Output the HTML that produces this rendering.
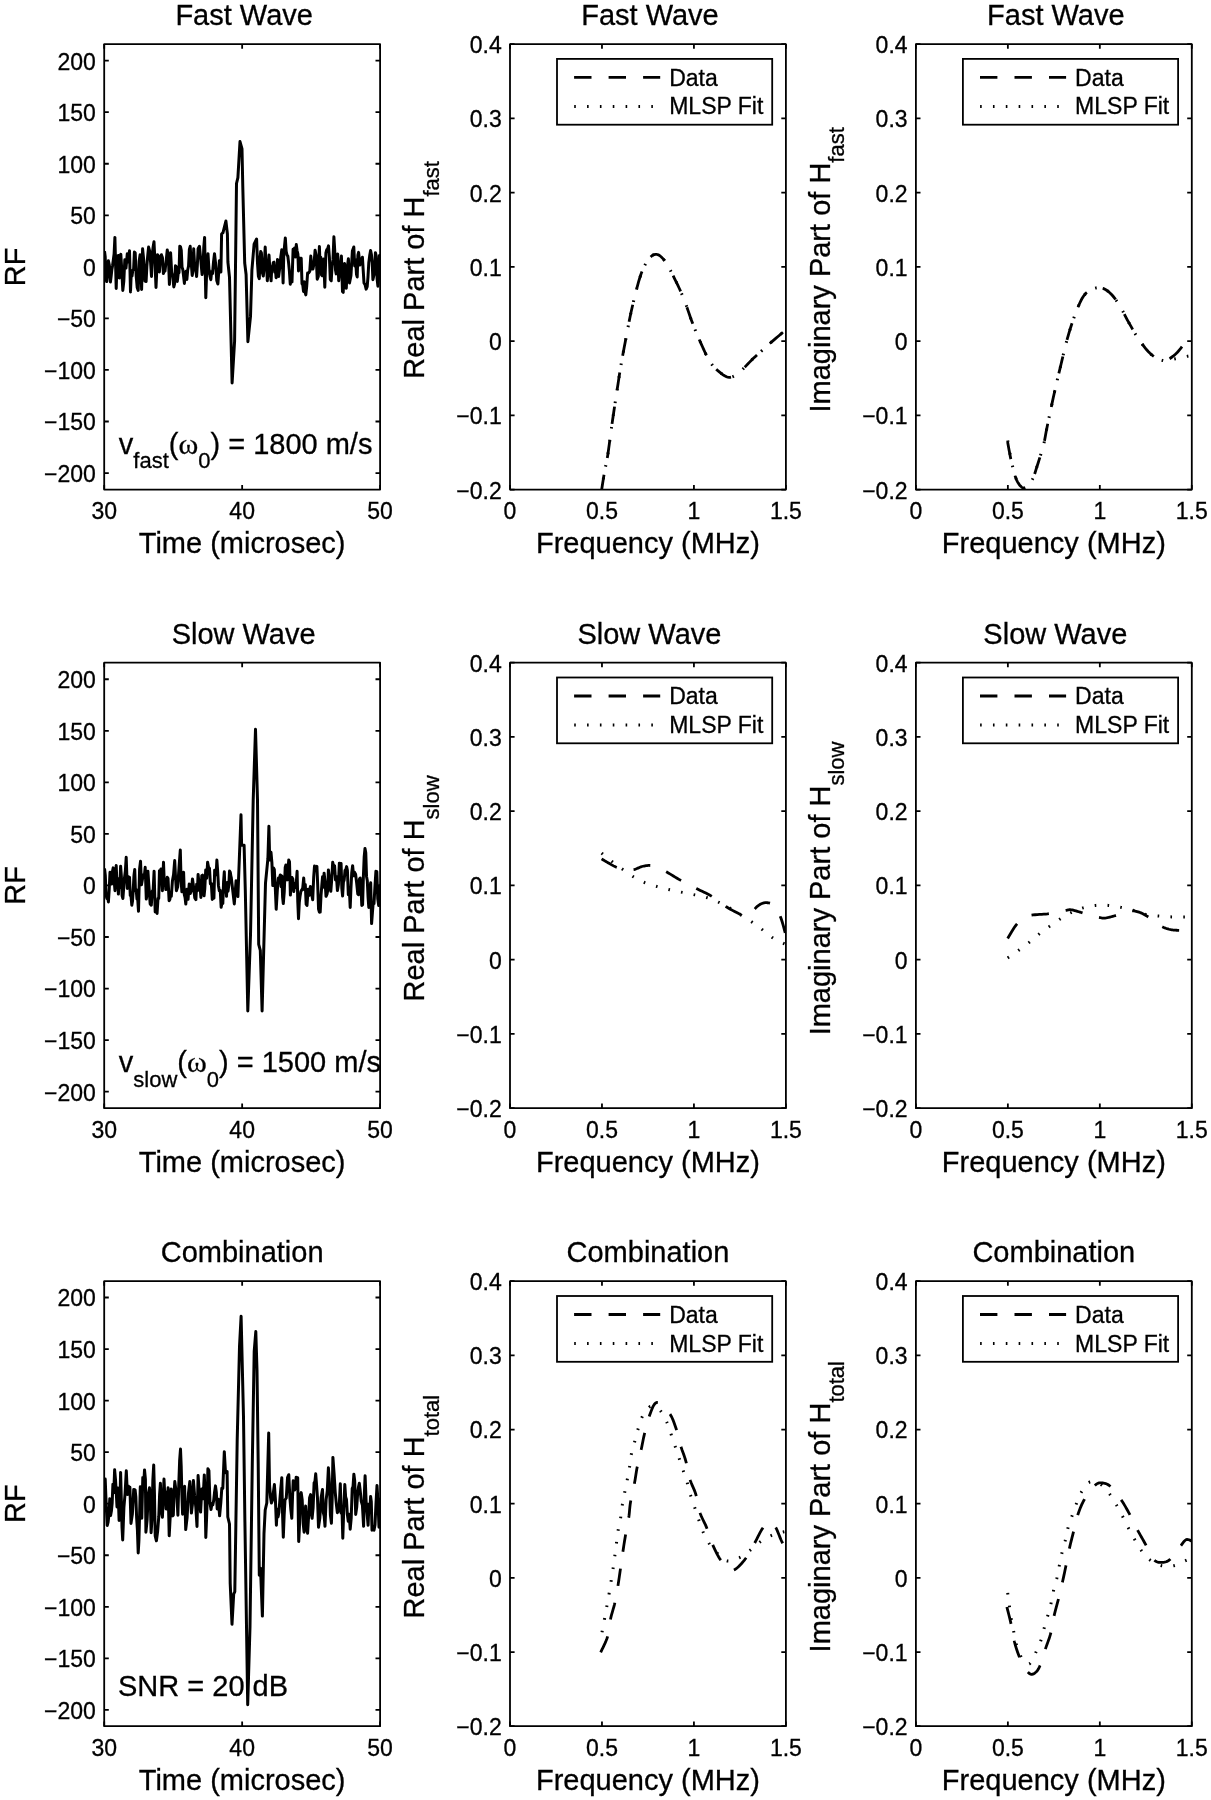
<!DOCTYPE html>
<html><head><meta charset="utf-8"><style>
html,body{margin:0;padding:0;background:#fff;width:1211px;height:1800px;overflow:hidden}
svg{display:block;will-change:transform}
text{font-family:"Liberation Sans", sans-serif;fill:#000;stroke:#000;stroke-width:0.3px}
.t{font-size:23px}
.L{font-size:29px}
.s{font-size:22px}
.w{font-family:"Liberation Serif",serif}
</style></head><body>
<svg width="1211" height="1800" viewBox="0 0 1211 1800">
<rect width="1211" height="1800" fill="#fff"/>
<path d="M104.20,489.60v-4.6M104.20,44.10v4.6M242.15,489.60v-4.6M242.15,44.10v4.6M380.10,489.60v-4.6M380.10,44.10v4.6M104.20,473.05h4.6M380.10,473.05h-4.6M104.20,421.50h4.6M380.10,421.50h-4.6M104.20,369.95h4.6M380.10,369.95h-4.6M104.20,318.40h4.6M380.10,318.40h-4.6M104.20,266.85h4.6M380.10,266.85h-4.6M104.20,215.30h4.6M380.10,215.30h-4.6M104.20,163.75h4.6M380.10,163.75h-4.6M104.20,112.20h4.6M380.10,112.20h-4.6M104.20,60.65h4.6M380.10,60.65h-4.6" stroke="#000" stroke-width="1.8" fill="none"/>
<rect x="104.20" y="44.10" width="275.90" height="445.50" stroke="#000" stroke-width="1.8" fill="none" stroke-linejoin="round"/>
<text x="104.20" y="519.30" text-anchor="middle" class="t">30</text>
<text x="242.15" y="519.30" text-anchor="middle" class="t">40</text>
<text x="380.10" y="519.30" text-anchor="middle" class="t">50</text>
<text x="95.90" y="481.95" text-anchor="end" class="t">−200</text>
<text x="95.90" y="430.40" text-anchor="end" class="t">−150</text>
<text x="95.90" y="378.85" text-anchor="end" class="t">−100</text>
<text x="95.90" y="327.30" text-anchor="end" class="t">−50</text>
<text x="95.90" y="275.75" text-anchor="end" class="t">0</text>
<text x="95.90" y="224.20" text-anchor="end" class="t">50</text>
<text x="95.90" y="172.65" text-anchor="end" class="t">100</text>
<text x="95.90" y="121.10" text-anchor="end" class="t">150</text>
<text x="95.90" y="69.55" text-anchor="end" class="t">200</text>
<path d="M510.00,489.60v-4.6M510.00,44.10v4.6M601.97,489.60v-4.6M601.97,44.10v4.6M693.93,489.60v-4.6M693.93,44.10v4.6M785.90,489.60v-4.6M785.90,44.10v4.6M510.00,489.60h4.6M785.90,489.60h-4.6M510.00,415.35h4.6M785.90,415.35h-4.6M510.00,341.10h4.6M785.90,341.10h-4.6M510.00,266.85h4.6M785.90,266.85h-4.6M510.00,192.60h4.6M785.90,192.60h-4.6M510.00,118.35h4.6M785.90,118.35h-4.6M510.00,44.10h4.6M785.90,44.10h-4.6" stroke="#000" stroke-width="1.8" fill="none"/>
<rect x="510.00" y="44.10" width="275.90" height="445.50" stroke="#000" stroke-width="1.8" fill="none" stroke-linejoin="round"/>
<text x="510.00" y="519.30" text-anchor="middle" class="t">0</text>
<text x="601.97" y="519.30" text-anchor="middle" class="t">0.5</text>
<text x="693.93" y="519.30" text-anchor="middle" class="t">1</text>
<text x="785.90" y="519.30" text-anchor="middle" class="t">1.5</text>
<text x="501.70" y="498.50" text-anchor="end" class="t">−0.2</text>
<text x="501.70" y="424.25" text-anchor="end" class="t">−0.1</text>
<text x="501.70" y="350.00" text-anchor="end" class="t">0</text>
<text x="501.70" y="275.75" text-anchor="end" class="t">0.1</text>
<text x="501.70" y="201.50" text-anchor="end" class="t">0.2</text>
<text x="501.70" y="127.25" text-anchor="end" class="t">0.3</text>
<text x="501.70" y="53.00" text-anchor="end" class="t">0.4</text>
<path d="M915.90,489.60v-4.6M915.90,44.10v4.6M1007.87,489.60v-4.6M1007.87,44.10v4.6M1099.83,489.60v-4.6M1099.83,44.10v4.6M1191.80,489.60v-4.6M1191.80,44.10v4.6M915.90,489.60h4.6M1191.80,489.60h-4.6M915.90,415.35h4.6M1191.80,415.35h-4.6M915.90,341.10h4.6M1191.80,341.10h-4.6M915.90,266.85h4.6M1191.80,266.85h-4.6M915.90,192.60h4.6M1191.80,192.60h-4.6M915.90,118.35h4.6M1191.80,118.35h-4.6M915.90,44.10h4.6M1191.80,44.10h-4.6" stroke="#000" stroke-width="1.8" fill="none"/>
<rect x="915.90" y="44.10" width="275.90" height="445.50" stroke="#000" stroke-width="1.8" fill="none" stroke-linejoin="round"/>
<text x="915.90" y="519.30" text-anchor="middle" class="t">0</text>
<text x="1007.87" y="519.30" text-anchor="middle" class="t">0.5</text>
<text x="1099.83" y="519.30" text-anchor="middle" class="t">1</text>
<text x="1191.80" y="519.30" text-anchor="middle" class="t">1.5</text>
<text x="907.60" y="498.50" text-anchor="end" class="t">−0.2</text>
<text x="907.60" y="424.25" text-anchor="end" class="t">−0.1</text>
<text x="907.60" y="350.00" text-anchor="end" class="t">0</text>
<text x="907.60" y="275.75" text-anchor="end" class="t">0.1</text>
<text x="907.60" y="201.50" text-anchor="end" class="t">0.2</text>
<text x="907.60" y="127.25" text-anchor="end" class="t">0.3</text>
<text x="907.60" y="53.00" text-anchor="end" class="t">0.4</text>
<path d="M104.20,1108.20v-4.6M104.20,662.70v4.6M242.15,1108.20v-4.6M242.15,662.70v4.6M380.10,1108.20v-4.6M380.10,662.70v4.6M104.20,1091.65h4.6M380.10,1091.65h-4.6M104.20,1040.10h4.6M380.10,1040.10h-4.6M104.20,988.55h4.6M380.10,988.55h-4.6M104.20,937.00h4.6M380.10,937.00h-4.6M104.20,885.45h4.6M380.10,885.45h-4.6M104.20,833.90h4.6M380.10,833.90h-4.6M104.20,782.35h4.6M380.10,782.35h-4.6M104.20,730.80h4.6M380.10,730.80h-4.6M104.20,679.25h4.6M380.10,679.25h-4.6" stroke="#000" stroke-width="1.8" fill="none"/>
<rect x="104.20" y="662.70" width="275.90" height="445.50" stroke="#000" stroke-width="1.8" fill="none" stroke-linejoin="round"/>
<text x="104.20" y="1137.90" text-anchor="middle" class="t">30</text>
<text x="242.15" y="1137.90" text-anchor="middle" class="t">40</text>
<text x="380.10" y="1137.90" text-anchor="middle" class="t">50</text>
<text x="95.90" y="1100.55" text-anchor="end" class="t">−200</text>
<text x="95.90" y="1049.00" text-anchor="end" class="t">−150</text>
<text x="95.90" y="997.45" text-anchor="end" class="t">−100</text>
<text x="95.90" y="945.90" text-anchor="end" class="t">−50</text>
<text x="95.90" y="894.35" text-anchor="end" class="t">0</text>
<text x="95.90" y="842.80" text-anchor="end" class="t">50</text>
<text x="95.90" y="791.25" text-anchor="end" class="t">100</text>
<text x="95.90" y="739.70" text-anchor="end" class="t">150</text>
<text x="95.90" y="688.15" text-anchor="end" class="t">200</text>
<path d="M510.00,1108.20v-4.6M510.00,662.70v4.6M601.97,1108.20v-4.6M601.97,662.70v4.6M693.93,1108.20v-4.6M693.93,662.70v4.6M785.90,1108.20v-4.6M785.90,662.70v4.6M510.00,1108.20h4.6M785.90,1108.20h-4.6M510.00,1033.95h4.6M785.90,1033.95h-4.6M510.00,959.70h4.6M785.90,959.70h-4.6M510.00,885.45h4.6M785.90,885.45h-4.6M510.00,811.20h4.6M785.90,811.20h-4.6M510.00,736.95h4.6M785.90,736.95h-4.6M510.00,662.70h4.6M785.90,662.70h-4.6" stroke="#000" stroke-width="1.8" fill="none"/>
<rect x="510.00" y="662.70" width="275.90" height="445.50" stroke="#000" stroke-width="1.8" fill="none" stroke-linejoin="round"/>
<text x="510.00" y="1137.90" text-anchor="middle" class="t">0</text>
<text x="601.97" y="1137.90" text-anchor="middle" class="t">0.5</text>
<text x="693.93" y="1137.90" text-anchor="middle" class="t">1</text>
<text x="785.90" y="1137.90" text-anchor="middle" class="t">1.5</text>
<text x="501.70" y="1117.10" text-anchor="end" class="t">−0.2</text>
<text x="501.70" y="1042.85" text-anchor="end" class="t">−0.1</text>
<text x="501.70" y="968.60" text-anchor="end" class="t">0</text>
<text x="501.70" y="894.35" text-anchor="end" class="t">0.1</text>
<text x="501.70" y="820.10" text-anchor="end" class="t">0.2</text>
<text x="501.70" y="745.85" text-anchor="end" class="t">0.3</text>
<text x="501.70" y="671.60" text-anchor="end" class="t">0.4</text>
<path d="M915.90,1108.20v-4.6M915.90,662.70v4.6M1007.87,1108.20v-4.6M1007.87,662.70v4.6M1099.83,1108.20v-4.6M1099.83,662.70v4.6M1191.80,1108.20v-4.6M1191.80,662.70v4.6M915.90,1108.20h4.6M1191.80,1108.20h-4.6M915.90,1033.95h4.6M1191.80,1033.95h-4.6M915.90,959.70h4.6M1191.80,959.70h-4.6M915.90,885.45h4.6M1191.80,885.45h-4.6M915.90,811.20h4.6M1191.80,811.20h-4.6M915.90,736.95h4.6M1191.80,736.95h-4.6M915.90,662.70h4.6M1191.80,662.70h-4.6" stroke="#000" stroke-width="1.8" fill="none"/>
<rect x="915.90" y="662.70" width="275.90" height="445.50" stroke="#000" stroke-width="1.8" fill="none" stroke-linejoin="round"/>
<text x="915.90" y="1137.90" text-anchor="middle" class="t">0</text>
<text x="1007.87" y="1137.90" text-anchor="middle" class="t">0.5</text>
<text x="1099.83" y="1137.90" text-anchor="middle" class="t">1</text>
<text x="1191.80" y="1137.90" text-anchor="middle" class="t">1.5</text>
<text x="907.60" y="1117.10" text-anchor="end" class="t">−0.2</text>
<text x="907.60" y="1042.85" text-anchor="end" class="t">−0.1</text>
<text x="907.60" y="968.60" text-anchor="end" class="t">0</text>
<text x="907.60" y="894.35" text-anchor="end" class="t">0.1</text>
<text x="907.60" y="820.10" text-anchor="end" class="t">0.2</text>
<text x="907.60" y="745.85" text-anchor="end" class="t">0.3</text>
<text x="907.60" y="671.60" text-anchor="end" class="t">0.4</text>
<path d="M104.20,1726.20v-4.6M104.20,1281.20v4.6M242.15,1726.20v-4.6M242.15,1281.20v4.6M380.10,1726.20v-4.6M380.10,1281.20v4.6M104.20,1709.90h4.6M380.10,1709.90h-4.6M104.20,1658.35h4.6M380.10,1658.35h-4.6M104.20,1606.80h4.6M380.10,1606.80h-4.6M104.20,1555.25h4.6M380.10,1555.25h-4.6M104.20,1503.70h4.6M380.10,1503.70h-4.6M104.20,1452.15h4.6M380.10,1452.15h-4.6M104.20,1400.60h4.6M380.10,1400.60h-4.6M104.20,1349.05h4.6M380.10,1349.05h-4.6M104.20,1297.50h4.6M380.10,1297.50h-4.6" stroke="#000" stroke-width="1.8" fill="none"/>
<rect x="104.20" y="1281.20" width="275.90" height="445.00" stroke="#000" stroke-width="1.8" fill="none" stroke-linejoin="round"/>
<text x="104.20" y="1755.90" text-anchor="middle" class="t">30</text>
<text x="242.15" y="1755.90" text-anchor="middle" class="t">40</text>
<text x="380.10" y="1755.90" text-anchor="middle" class="t">50</text>
<text x="95.90" y="1718.80" text-anchor="end" class="t">−200</text>
<text x="95.90" y="1667.25" text-anchor="end" class="t">−150</text>
<text x="95.90" y="1615.70" text-anchor="end" class="t">−100</text>
<text x="95.90" y="1564.15" text-anchor="end" class="t">−50</text>
<text x="95.90" y="1512.60" text-anchor="end" class="t">0</text>
<text x="95.90" y="1461.05" text-anchor="end" class="t">50</text>
<text x="95.90" y="1409.50" text-anchor="end" class="t">100</text>
<text x="95.90" y="1357.95" text-anchor="end" class="t">150</text>
<text x="95.90" y="1306.40" text-anchor="end" class="t">200</text>
<path d="M510.00,1726.20v-4.6M510.00,1281.20v4.6M601.97,1726.20v-4.6M601.97,1281.20v4.6M693.93,1726.20v-4.6M693.93,1281.20v4.6M785.90,1726.20v-4.6M785.90,1281.20v4.6M510.00,1726.20h4.6M785.90,1726.20h-4.6M510.00,1652.03h4.6M785.90,1652.03h-4.6M510.00,1577.87h4.6M785.90,1577.87h-4.6M510.00,1503.70h4.6M785.90,1503.70h-4.6M510.00,1429.53h4.6M785.90,1429.53h-4.6M510.00,1355.37h4.6M785.90,1355.37h-4.6M510.00,1281.20h4.6M785.90,1281.20h-4.6" stroke="#000" stroke-width="1.8" fill="none"/>
<rect x="510.00" y="1281.20" width="275.90" height="445.00" stroke="#000" stroke-width="1.8" fill="none" stroke-linejoin="round"/>
<text x="510.00" y="1755.90" text-anchor="middle" class="t">0</text>
<text x="601.97" y="1755.90" text-anchor="middle" class="t">0.5</text>
<text x="693.93" y="1755.90" text-anchor="middle" class="t">1</text>
<text x="785.90" y="1755.90" text-anchor="middle" class="t">1.5</text>
<text x="501.70" y="1735.10" text-anchor="end" class="t">−0.2</text>
<text x="501.70" y="1660.93" text-anchor="end" class="t">−0.1</text>
<text x="501.70" y="1586.77" text-anchor="end" class="t">0</text>
<text x="501.70" y="1512.60" text-anchor="end" class="t">0.1</text>
<text x="501.70" y="1438.43" text-anchor="end" class="t">0.2</text>
<text x="501.70" y="1364.27" text-anchor="end" class="t">0.3</text>
<text x="501.70" y="1290.10" text-anchor="end" class="t">0.4</text>
<path d="M915.90,1726.20v-4.6M915.90,1281.20v4.6M1007.87,1726.20v-4.6M1007.87,1281.20v4.6M1099.83,1726.20v-4.6M1099.83,1281.20v4.6M1191.80,1726.20v-4.6M1191.80,1281.20v4.6M915.90,1726.20h4.6M1191.80,1726.20h-4.6M915.90,1652.03h4.6M1191.80,1652.03h-4.6M915.90,1577.87h4.6M1191.80,1577.87h-4.6M915.90,1503.70h4.6M1191.80,1503.70h-4.6M915.90,1429.53h4.6M1191.80,1429.53h-4.6M915.90,1355.37h4.6M1191.80,1355.37h-4.6M915.90,1281.20h4.6M1191.80,1281.20h-4.6" stroke="#000" stroke-width="1.8" fill="none"/>
<rect x="915.90" y="1281.20" width="275.90" height="445.00" stroke="#000" stroke-width="1.8" fill="none" stroke-linejoin="round"/>
<text x="915.90" y="1755.90" text-anchor="middle" class="t">0</text>
<text x="1007.87" y="1755.90" text-anchor="middle" class="t">0.5</text>
<text x="1099.83" y="1755.90" text-anchor="middle" class="t">1</text>
<text x="1191.80" y="1755.90" text-anchor="middle" class="t">1.5</text>
<text x="907.60" y="1735.10" text-anchor="end" class="t">−0.2</text>
<text x="907.60" y="1660.93" text-anchor="end" class="t">−0.1</text>
<text x="907.60" y="1586.77" text-anchor="end" class="t">0</text>
<text x="907.60" y="1512.60" text-anchor="end" class="t">0.1</text>
<text x="907.60" y="1438.43" text-anchor="end" class="t">0.2</text>
<text x="907.60" y="1364.27" text-anchor="end" class="t">0.3</text>
<text x="907.60" y="1290.10" text-anchor="end" class="t">0.4</text>
<text x="244.15" y="25.00" text-anchor="middle" class="L">Fast Wave</text>
<text x="242.15" y="553.10" text-anchor="middle" class="L">Time (microsec)</text>
<text x="649.95" y="25.00" text-anchor="middle" class="L">Fast Wave</text>
<text x="647.95" y="553.10" text-anchor="middle" class="L">Frequency (MHz)</text>
<text x="1055.85" y="25.00" text-anchor="middle" class="L">Fast Wave</text>
<text x="1053.85" y="553.10" text-anchor="middle" class="L">Frequency (MHz)</text>
<text transform="translate(24.8,266.85) rotate(-90)" text-anchor="middle" class="L">RF</text>
<text transform="translate(424.00,269.85) rotate(-90)" text-anchor="middle" class="L">Real Part of H<tspan class="s" dy="14.5">fast</tspan></text>
<text transform="translate(829.90,269.85) rotate(-90)" text-anchor="middle" class="L">Imaginary Part of H<tspan class="s" dy="14.5">fast</tspan></text>
<text x="243.65" y="643.60" text-anchor="middle" class="L">Slow Wave</text>
<text x="242.15" y="1171.70" text-anchor="middle" class="L">Time (microsec)</text>
<text x="649.45" y="643.60" text-anchor="middle" class="L">Slow Wave</text>
<text x="647.95" y="1171.70" text-anchor="middle" class="L">Frequency (MHz)</text>
<text x="1055.35" y="643.60" text-anchor="middle" class="L">Slow Wave</text>
<text x="1053.85" y="1171.70" text-anchor="middle" class="L">Frequency (MHz)</text>
<text transform="translate(24.8,885.45) rotate(-90)" text-anchor="middle" class="L">RF</text>
<text transform="translate(424.00,888.45) rotate(-90)" text-anchor="middle" class="L">Real Part of H<tspan class="s" dy="14.5">slow</tspan></text>
<text transform="translate(829.90,888.45) rotate(-90)" text-anchor="middle" class="L">Imaginary Part of H<tspan class="s" dy="14.5">slow</tspan></text>
<text x="242.15" y="1262.10" text-anchor="middle" class="L">Combination</text>
<text x="242.15" y="1789.70" text-anchor="middle" class="L">Time (microsec)</text>
<text x="647.95" y="1262.10" text-anchor="middle" class="L">Combination</text>
<text x="647.95" y="1789.70" text-anchor="middle" class="L">Frequency (MHz)</text>
<text x="1053.85" y="1262.10" text-anchor="middle" class="L">Combination</text>
<text x="1053.85" y="1789.70" text-anchor="middle" class="L">Frequency (MHz)</text>
<text transform="translate(24.8,1503.70) rotate(-90)" text-anchor="middle" class="L">RF</text>
<text transform="translate(424.00,1506.70) rotate(-90)" text-anchor="middle" class="L">Real Part of H<tspan class="s" dy="14.5">total</tspan></text>
<text transform="translate(829.90,1506.70) rotate(-90)" text-anchor="middle" class="L">Imaginary Part of H<tspan class="s" dy="14.5">total</tspan></text>
<rect x="557.00" y="58.90" width="215.20" height="65.80" fill="#fff" stroke="#000" stroke-width="1.8"/>
<path d="M574.10,77.40H660.20" stroke="#000" stroke-width="2.8" stroke-dasharray="17.4,17.1" fill="none"/>
<path d="M574.20,106.50H655.00" stroke="#000" stroke-width="3" stroke-dasharray="1.6,11.25" fill="none"/>
<text x="669.20" y="85.50" class="t">Data</text>
<text x="669.20" y="114.40" class="t">MLSP Fit</text>
<rect x="962.90" y="58.90" width="215.20" height="65.80" fill="#fff" stroke="#000" stroke-width="1.8"/>
<path d="M980.00,77.40H1066.10" stroke="#000" stroke-width="2.8" stroke-dasharray="17.4,17.1" fill="none"/>
<path d="M980.10,106.50H1060.90" stroke="#000" stroke-width="3" stroke-dasharray="1.6,11.25" fill="none"/>
<text x="1075.10" y="85.50" class="t">Data</text>
<text x="1075.10" y="114.40" class="t">MLSP Fit</text>
<rect x="557.00" y="677.50" width="215.20" height="65.80" fill="#fff" stroke="#000" stroke-width="1.8"/>
<path d="M574.10,696.00H660.20" stroke="#000" stroke-width="2.8" stroke-dasharray="17.4,17.1" fill="none"/>
<path d="M574.20,725.10H655.00" stroke="#000" stroke-width="3" stroke-dasharray="1.6,11.25" fill="none"/>
<text x="669.20" y="704.10" class="t">Data</text>
<text x="669.20" y="733.00" class="t">MLSP Fit</text>
<rect x="962.90" y="677.50" width="215.20" height="65.80" fill="#fff" stroke="#000" stroke-width="1.8"/>
<path d="M980.00,696.00H1066.10" stroke="#000" stroke-width="2.8" stroke-dasharray="17.4,17.1" fill="none"/>
<path d="M980.10,725.10H1060.90" stroke="#000" stroke-width="3" stroke-dasharray="1.6,11.25" fill="none"/>
<text x="1075.10" y="704.10" class="t">Data</text>
<text x="1075.10" y="733.00" class="t">MLSP Fit</text>
<rect x="557.00" y="1296.00" width="215.20" height="65.80" fill="#fff" stroke="#000" stroke-width="1.8"/>
<path d="M574.10,1314.50H660.20" stroke="#000" stroke-width="2.8" stroke-dasharray="17.4,17.1" fill="none"/>
<path d="M574.20,1343.60H655.00" stroke="#000" stroke-width="3" stroke-dasharray="1.6,11.25" fill="none"/>
<text x="669.20" y="1322.60" class="t">Data</text>
<text x="669.20" y="1351.50" class="t">MLSP Fit</text>
<rect x="962.90" y="1296.00" width="215.20" height="65.80" fill="#fff" stroke="#000" stroke-width="1.8"/>
<path d="M980.00,1314.50H1066.10" stroke="#000" stroke-width="2.8" stroke-dasharray="17.4,17.1" fill="none"/>
<path d="M980.10,1343.60H1060.90" stroke="#000" stroke-width="3" stroke-dasharray="1.6,11.25" fill="none"/>
<text x="1075.10" y="1322.60" class="t">Data</text>
<text x="1075.10" y="1351.50" class="t">MLSP Fit</text>
<defs>
<clipPath id="c00"><rect x="104.20" y="44.10" width="275.90" height="445.50"/></clipPath>
<clipPath id="c01"><rect x="510.00" y="44.10" width="275.90" height="445.50"/></clipPath>
<clipPath id="c02"><rect x="915.90" y="44.10" width="275.90" height="445.50"/></clipPath>
<clipPath id="c10"><rect x="104.20" y="662.70" width="275.90" height="445.50"/></clipPath>
<clipPath id="c11"><rect x="510.00" y="662.70" width="275.90" height="445.50"/></clipPath>
<clipPath id="c12"><rect x="915.90" y="662.70" width="275.90" height="445.50"/></clipPath>
<clipPath id="c20"><rect x="104.20" y="1281.20" width="275.90" height="445.00"/></clipPath>
<clipPath id="c21"><rect x="510.00" y="1281.20" width="275.90" height="445.00"/></clipPath>
<clipPath id="c22"><rect x="915.90" y="1281.20" width="275.90" height="445.00"/></clipPath>
</defs>
<path d="M601.30,492.00L601.55,490.43L601.88,488.33L602.27,485.82L602.70,483.04L603.16,480.13L603.62,477.23L604.08,474.47L604.50,472.00L604.89,469.86L605.27,467.96L605.65,466.18L606.03,464.41L606.42,462.56L606.82,460.51L607.25,458.16L607.70,455.40L608.18,452.17L608.70,448.54L609.23,444.62L609.78,440.49L610.33,436.27L610.89,432.05L611.45,427.93L612.00,424.00L612.55,420.22L613.10,416.47L613.66,412.74L614.21,409.06L614.77,405.40L615.32,401.79L615.86,398.22L616.40,394.70L616.92,391.23L617.43,387.81L617.94,384.44L618.44,381.10L618.94,377.80L619.45,374.52L619.97,371.25L620.50,368.00L621.04,364.83L621.56,361.80L622.09,358.82L622.62,355.85L623.18,352.81L623.78,349.65L624.41,346.30L625.10,342.70L625.84,338.80L626.62,334.65L627.44,330.30L628.29,325.83L629.18,321.30L630.09,316.78L631.04,312.32L632.00,308.00L633.01,303.67L634.07,299.22L635.17,294.73L636.29,290.30L637.42,286.02L638.55,281.98L639.64,278.28L640.70,275.00L641.72,272.15L642.71,269.65L643.69,267.45L644.66,265.51L645.61,263.79L646.57,262.24L647.53,260.83L648.50,259.50L649.47,258.27L650.43,257.19L651.39,256.26L652.34,255.50L653.31,254.91L654.29,254.51L655.28,254.30L656.30,254.30L657.33,254.50L658.37,254.89L659.42,255.47L660.49,256.23L661.57,257.19L662.68,258.33L663.82,259.67L665.00,261.20L666.23,263.00L667.52,265.12L668.85,267.47L670.21,269.99L671.56,272.60L672.89,275.24L674.17,277.83L675.40,280.30L676.56,282.65L677.67,284.96L678.75,287.24L679.81,289.53L680.85,291.86L681.89,294.27L682.93,296.77L684.00,299.40L685.08,302.20L686.17,305.17L687.26,308.25L688.34,311.39L689.43,314.55L690.52,317.67L691.61,320.70L692.70,323.60L693.79,326.39L694.88,329.12L695.97,331.80L697.06,334.43L698.14,337.00L699.23,339.52L700.32,341.99L701.40,344.40L702.48,346.79L703.55,349.17L704.63,351.52L705.70,353.81L706.77,356.00L707.85,358.09L708.92,360.03L710.00,361.80L711.07,363.39L712.13,364.81L713.18,366.09L714.24,367.26L715.31,368.33L716.40,369.35L717.53,370.33L718.70,371.30L719.92,372.30L721.18,373.33L722.48,374.33L723.79,375.27L725.13,376.09L726.46,376.75L727.79,377.20L729.10,377.40L730.38,377.35L731.62,377.10L732.85,376.66L734.08,376.05L735.34,375.28L736.65,374.38L738.03,373.34L739.50,372.20L741.05,370.89L742.65,369.38L744.31,367.70L746.02,365.90L747.78,364.02L749.60,362.10L751.48,360.18L753.40,358.30L755.43,356.40L757.61,354.40L759.86,352.35L762.16,350.28L764.44,348.24L766.65,346.27L768.76,344.41L770.70,342.70L772.53,341.10L774.31,339.57L776.03,338.11L777.66,336.73L779.18,335.45L780.57,334.28L781.82,333.22L782.90,332.30L783.79,331.53L784.49,330.90L785.04,330.40L785.46,330.00L785.79,329.68L786.05,329.43L786.28,329.21L786.50,329.00" clip-path="url(#c01)" stroke="#000" stroke-width="2.8" stroke-dasharray="17.4,17.1" fill="none"/>
<path d="M601.30,492.00L601.55,490.43L601.88,488.33L602.27,485.82L602.70,483.04L603.16,480.13L603.62,477.23L604.08,474.47L604.50,472.00L604.89,469.86L605.27,467.96L605.65,466.18L606.03,464.41L606.42,462.56L606.82,460.51L607.25,458.16L607.70,455.40L608.18,452.17L608.70,448.54L609.23,444.62L609.78,440.49L610.33,436.27L610.89,432.05L611.45,427.93L612.00,424.00L612.55,420.22L613.10,416.47L613.66,412.74L614.21,409.06L614.77,405.40L615.32,401.79L615.86,398.22L616.40,394.70L616.92,391.23L617.43,387.81L617.94,384.44L618.44,381.10L618.94,377.80L619.45,374.52L619.97,371.25L620.50,368.00L621.04,364.83L621.56,361.80L622.09,358.82L622.62,355.85L623.18,352.81L623.78,349.65L624.41,346.30L625.10,342.70L625.84,338.80L626.62,334.65L627.44,330.30L628.29,325.83L629.18,321.30L630.09,316.78L631.04,312.32L632.00,308.00L633.01,303.67L634.07,299.22L635.17,294.73L636.29,290.30L637.42,286.02L638.55,281.98L639.64,278.28L640.70,275.00L641.72,272.15L642.71,269.65L643.69,267.45L644.66,265.51L645.61,263.79L646.57,262.24L647.53,260.83L648.50,259.50L649.47,258.27L650.43,257.19L651.39,256.26L652.34,255.50L653.31,254.91L654.29,254.51L655.28,254.30L656.30,254.30L657.33,254.50L658.37,254.89L659.42,255.47L660.49,256.23L661.57,257.19L662.68,258.33L663.82,259.67L665.00,261.20L666.23,263.00L667.52,265.12L668.85,267.47L670.21,269.99L671.56,272.60L672.89,275.24L674.17,277.83L675.40,280.30L676.56,282.65L677.67,284.96L678.75,287.24L679.81,289.53L680.85,291.86L681.89,294.27L682.93,296.77L684.00,299.40L685.08,302.20L686.17,305.17L687.26,308.25L688.34,311.39L689.43,314.55L690.52,317.67L691.61,320.70L692.70,323.60L693.79,326.39L694.88,329.12L695.97,331.80L697.06,334.43L698.14,337.00L699.23,339.52L700.32,341.99L701.40,344.40L702.48,346.79L703.55,349.17L704.63,351.52L705.70,353.81L706.77,356.00L707.85,358.09L708.92,360.03L710.00,361.80L711.07,363.39L712.13,364.81L713.18,366.09L714.24,367.26L715.31,368.33L716.40,369.35L717.53,370.33L718.70,371.30L719.92,372.30L721.18,373.33L722.48,374.33L723.79,375.27L725.13,376.09L726.46,376.75L727.79,377.20L729.10,377.40L730.38,377.35L731.62,377.10L732.85,376.66L734.08,376.05L735.34,375.28L736.65,374.38L738.03,373.34L739.50,372.20L741.05,370.89L742.65,369.38L744.31,367.70L746.02,365.90L747.78,364.02L749.60,362.10L751.48,360.18L753.40,358.30L755.43,356.40L757.61,354.40L759.86,352.35L762.16,350.28L764.44,348.24L766.65,346.27L768.76,344.41L770.70,342.70L772.53,341.10L774.31,339.57L776.03,338.11L777.66,336.73L779.18,335.45L780.57,334.28L781.82,333.22L782.90,332.30L783.79,331.53L784.49,330.90L785.04,330.40L785.46,330.00L785.79,329.68L786.05,329.43L786.28,329.21L786.50,329.00" clip-path="url(#c01)" stroke="#000" stroke-width="3" stroke-dasharray="1.6,11.25" fill="none"/>
<path d="M1007.60,442.00L1007.85,443.37L1008.20,445.24L1008.61,447.48L1009.06,449.94L1009.53,452.46L1010.00,454.91L1010.43,457.14L1010.80,459.00L1011.12,460.50L1011.40,461.78L1011.66,462.90L1011.91,463.91L1012.16,464.87L1012.42,465.83L1012.69,466.86L1013.00,468.00L1013.33,469.26L1013.67,470.60L1014.02,471.98L1014.39,473.38L1014.77,474.75L1015.16,476.09L1015.57,477.34L1016.00,478.50L1016.45,479.57L1016.93,480.60L1017.42,481.57L1017.93,482.49L1018.45,483.35L1018.97,484.14L1019.49,484.86L1020.00,485.50L1020.51,486.07L1021.01,486.58L1021.52,487.03L1022.02,487.40L1022.54,487.70L1023.05,487.92L1023.57,488.05L1024.10,488.10L1024.63,488.06L1025.17,487.94L1025.71,487.74L1026.26,487.46L1026.81,487.10L1027.36,486.65L1027.93,486.12L1028.50,485.50L1029.09,484.77L1029.71,483.91L1030.34,482.96L1030.97,481.93L1031.60,480.85L1032.20,479.73L1032.77,478.61L1033.30,477.50L1033.77,476.40L1034.20,475.29L1034.59,474.16L1034.96,473.00L1035.33,471.81L1035.70,470.59L1036.08,469.32L1036.50,468.00L1036.95,466.63L1037.41,465.20L1037.89,463.73L1038.37,462.22L1038.86,460.68L1039.34,459.13L1039.83,457.56L1040.30,456.00L1040.77,454.45L1041.24,452.90L1041.72,451.35L1042.19,449.78L1042.65,448.18L1043.11,446.52L1043.56,444.80L1044.00,443.00L1044.40,441.22L1044.75,439.51L1045.07,437.79L1045.39,436.00L1045.74,434.05L1046.14,431.87L1046.62,429.38L1047.20,426.50L1047.89,423.14L1048.69,419.33L1049.55,415.18L1050.47,410.81L1051.42,406.34L1052.37,401.89L1053.30,397.57L1054.20,393.50L1055.07,389.63L1055.93,385.84L1056.79,382.10L1057.66,378.42L1058.52,374.78L1059.38,371.17L1060.24,367.58L1061.10,364.00L1061.95,360.44L1062.78,356.91L1063.61,353.41L1064.44,349.93L1065.28,346.48L1066.15,343.06L1067.05,339.67L1068.00,336.30L1069.00,332.90L1070.05,329.46L1071.13,326.01L1072.24,322.60L1073.36,319.28L1074.48,316.09L1075.60,313.08L1076.70,310.30L1077.76,307.71L1078.80,305.26L1079.81,302.96L1080.84,300.81L1081.89,298.81L1082.99,296.97L1084.15,295.30L1085.40,293.80L1086.76,292.47L1088.23,291.32L1089.76,290.33L1091.34,289.50L1092.94,288.83L1094.51,288.31L1096.05,287.93L1097.50,287.70L1098.88,287.62L1100.22,287.70L1101.52,287.93L1102.81,288.31L1104.07,288.84L1105.34,289.50L1106.61,290.29L1107.90,291.20L1109.20,292.25L1110.50,293.46L1111.80,294.80L1113.10,296.27L1114.40,297.87L1115.70,299.58L1117.00,301.39L1118.30,303.30L1119.60,305.36L1120.90,307.62L1122.20,310.02L1123.50,312.52L1124.80,315.05L1126.10,317.58L1127.40,320.05L1128.70,322.40L1129.99,324.67L1131.26,326.93L1132.52,329.17L1133.79,331.38L1135.07,333.55L1136.37,335.68L1137.71,337.77L1139.10,339.80L1140.54,341.83L1142.03,343.87L1143.55,345.89L1145.09,347.86L1146.65,349.74L1148.21,351.49L1149.77,353.09L1151.30,354.50L1152.84,355.74L1154.41,356.86L1156.00,357.84L1157.57,358.69L1159.12,359.40L1160.62,359.96L1162.06,360.36L1163.40,360.60L1164.64,360.65L1165.79,360.50L1166.88,360.18L1167.91,359.72L1168.92,359.14L1169.93,358.48L1170.94,357.76L1172.00,357.00L1173.06,356.22L1174.10,355.38L1175.12,354.48L1176.15,353.50L1177.21,352.42L1178.30,351.22L1179.46,349.88L1180.70,348.40L1182.11,346.61L1183.71,344.46L1185.42,342.10L1187.14,339.66L1188.80,337.29L1190.31,335.13L1191.57,333.32L1192.50,332.00" clip-path="url(#c02)" stroke="#000" stroke-width="2.8" stroke-dasharray="17.4,17.1" fill="none"/>
<path d="M1007.70,440.40L1007.95,441.81L1008.28,443.74L1008.67,446.04L1009.11,448.57L1009.57,451.18L1010.02,453.72L1010.43,456.04L1010.80,458.00L1011.11,459.61L1011.39,461.02L1011.66,462.28L1011.91,463.44L1012.16,464.55L1012.41,465.64L1012.69,466.78L1013.00,468.00L1013.33,469.31L1013.67,470.67L1014.02,472.05L1014.39,473.44L1014.77,474.80L1015.16,476.11L1015.57,477.35L1016.00,478.50L1016.45,479.57L1016.93,480.60L1017.42,481.57L1017.93,482.49L1018.45,483.35L1018.97,484.14L1019.49,484.86L1020.00,485.50L1020.51,486.07L1021.01,486.58L1021.52,487.03L1022.02,487.40L1022.54,487.70L1023.05,487.92L1023.57,488.05L1024.10,488.10L1024.63,488.06L1025.17,487.94L1025.71,487.74L1026.26,487.46L1026.81,487.10L1027.36,486.65L1027.93,486.12L1028.50,485.50L1029.09,484.77L1029.71,483.91L1030.34,482.96L1030.97,481.93L1031.60,480.85L1032.20,479.73L1032.77,478.61L1033.30,477.50L1033.77,476.40L1034.20,475.29L1034.59,474.16L1034.96,473.00L1035.33,471.81L1035.70,470.59L1036.08,469.32L1036.50,468.00L1036.95,466.63L1037.41,465.20L1037.89,463.73L1038.37,462.22L1038.86,460.68L1039.34,459.13L1039.83,457.56L1040.30,456.00L1040.77,454.45L1041.24,452.90L1041.72,451.35L1042.19,449.78L1042.65,448.18L1043.11,446.52L1043.56,444.80L1044.00,443.00L1044.40,441.22L1044.75,439.51L1045.07,437.79L1045.39,436.00L1045.74,434.05L1046.14,431.87L1046.62,429.38L1047.20,426.50L1047.89,423.14L1048.69,419.33L1049.55,415.18L1050.47,410.81L1051.42,406.34L1052.37,401.89L1053.30,397.57L1054.20,393.50L1055.07,389.63L1055.93,385.84L1056.79,382.10L1057.66,378.42L1058.52,374.78L1059.38,371.17L1060.24,367.58L1061.10,364.00L1061.95,360.44L1062.78,356.91L1063.61,353.41L1064.44,349.93L1065.28,346.48L1066.15,343.06L1067.05,339.67L1068.00,336.30L1069.00,332.90L1070.05,329.46L1071.13,326.01L1072.24,322.60L1073.36,319.28L1074.48,316.09L1075.60,313.08L1076.70,310.30L1077.76,307.71L1078.80,305.26L1079.81,302.96L1080.84,300.81L1081.89,298.81L1082.99,296.97L1084.15,295.30L1085.40,293.80L1086.76,292.47L1088.23,291.32L1089.76,290.33L1091.34,289.50L1092.94,288.83L1094.51,288.31L1096.05,287.93L1097.50,287.70L1098.88,287.62L1100.22,287.70L1101.52,287.93L1102.81,288.31L1104.07,288.84L1105.34,289.50L1106.61,290.29L1107.90,291.20L1109.20,292.25L1110.50,293.46L1111.80,294.80L1113.10,296.27L1114.40,297.87L1115.70,299.58L1117.00,301.39L1118.30,303.30L1119.60,305.36L1120.90,307.62L1122.20,310.02L1123.50,312.52L1124.80,315.05L1126.10,317.58L1127.40,320.05L1128.70,322.40L1129.99,324.67L1131.26,326.93L1132.52,329.17L1133.79,331.38L1135.07,333.55L1136.37,335.68L1137.71,337.77L1139.10,339.80L1140.54,341.83L1142.03,343.87L1143.55,345.89L1145.09,347.86L1146.65,349.74L1148.21,351.49L1149.77,353.09L1151.30,354.50L1152.82,355.73L1154.33,356.81L1155.84,357.76L1157.36,358.58L1158.87,359.27L1160.38,359.83L1161.89,360.27L1163.40,360.60L1164.91,360.76L1166.42,360.72L1167.93,360.54L1169.44,360.24L1170.96,359.88L1172.47,359.49L1173.98,359.12L1175.50,358.80L1177.07,358.50L1178.72,358.16L1180.39,357.80L1182.06,357.43L1183.66,357.07L1185.17,356.74L1186.53,356.44L1187.70,356.20L1188.69,356.02L1189.53,355.88L1190.25,355.77L1190.86,355.69L1191.38,355.63L1191.81,355.58L1192.18,355.54L1192.50,355.50" clip-path="url(#c02)" stroke="#000" stroke-width="3" stroke-dasharray="1.6,11.25" fill="none"/>
<path d="M601.60,858.90L602.17,859.24L602.93,859.70L603.83,860.25L604.84,860.86L605.90,861.49L606.98,862.13L608.02,862.74L609.00,863.30L609.92,863.82L610.82,864.35L611.72,864.87L612.63,865.38L613.54,865.88L614.47,866.35L615.42,866.79L616.40,867.20L617.42,867.58L618.46,867.94L619.53,868.28L620.61,868.59L621.71,868.87L622.81,869.12L623.91,869.33L625.00,869.50L626.09,869.64L627.20,869.75L628.31,869.84L629.43,869.89L630.54,869.89L631.64,869.85L632.73,869.76L633.80,869.60L634.85,869.35L635.89,869.00L636.91,868.58L637.93,868.12L638.94,867.65L639.96,867.20L640.97,866.81L642.00,866.50L643.03,866.25L644.07,866.02L645.11,865.82L646.15,865.65L647.19,865.53L648.23,865.45L649.27,865.44L650.30,865.50L651.33,865.63L652.35,865.84L653.38,866.11L654.40,866.43L655.42,866.79L656.45,867.18L657.47,867.59L658.50,868.00L659.49,868.41L660.43,868.81L661.35,869.24L662.29,869.69L663.27,870.18L664.32,870.74L665.49,871.38L666.80,872.10L668.27,872.94L669.86,873.88L671.56,874.91L673.34,875.99L675.17,877.11L677.05,878.23L678.93,879.34L680.80,880.40L682.69,881.43L684.62,882.47L686.60,883.51L688.59,884.55L690.60,885.58L692.59,886.60L694.56,887.61L696.50,888.60L698.40,889.55L700.28,890.45L702.15,891.32L704.00,892.19L705.85,893.08L707.69,894.02L709.54,895.01L711.40,896.10L713.26,897.30L715.11,898.61L716.96,899.99L718.81,901.41L720.66,902.83L722.53,904.23L724.40,905.56L726.30,906.80L728.28,908.00L730.36,909.21L732.49,910.40L734.62,911.54L736.68,912.60L738.62,913.55L740.38,914.36L741.90,915.00L743.14,915.49L744.14,915.88L744.96,916.16L745.66,916.31L746.30,916.32L746.94,916.20L747.66,915.93L748.50,915.50L749.48,914.82L750.53,913.85L751.62,912.67L752.74,911.39L753.84,910.07L754.90,908.81L755.90,907.69L756.80,906.80L757.60,906.11L758.33,905.54L759.00,905.06L759.62,904.66L760.22,904.32L760.81,904.02L761.40,903.76L762.00,903.50L762.60,903.26L763.18,903.07L763.75,902.91L764.31,902.79L764.88,902.71L765.46,902.67L766.06,902.67L766.70,902.70L767.38,902.76L768.10,902.84L768.85,902.94L769.61,903.09L770.37,903.29L771.12,903.56L771.83,903.89L772.50,904.30L773.12,904.79L773.71,905.34L774.28,905.95L774.83,906.62L775.36,907.37L775.90,908.18L776.44,909.05L777.00,910.00L777.57,910.99L778.14,912.01L778.70,913.08L779.28,914.23L779.85,915.48L780.43,916.84L781.01,918.34L781.60,920.00L782.23,921.99L782.92,924.36L783.63,926.96L784.34,929.62L785.01,932.22L785.61,934.58L786.12,936.56L786.50,938.00" clip-path="url(#c11)" stroke="#000" stroke-width="2.8" stroke-dasharray="17.4,17.1" fill="none"/>
<path d="M601.60,853.10L602.40,853.75L603.45,854.62L604.71,855.65L606.11,856.79L607.60,858.00L609.11,859.22L610.60,860.41L612.00,861.50L613.35,862.53L614.72,863.57L616.11,864.60L617.51,865.63L618.90,866.65L620.29,867.65L621.65,868.64L623.00,869.60L624.31,870.54L625.60,871.48L626.87,872.39L628.14,873.29L629.40,874.18L630.68,875.04L631.97,875.88L633.30,876.70L634.65,877.50L636.00,878.28L637.36,879.04L638.74,879.79L640.14,880.51L641.56,881.20L643.01,881.87L644.50,882.50L646.03,883.10L647.62,883.67L649.23,884.20L650.88,884.71L652.52,885.20L654.17,885.68L655.80,886.14L657.40,886.60L658.97,887.05L660.53,887.48L662.07,887.89L663.61,888.29L665.15,888.68L666.69,889.06L668.24,889.43L669.80,889.80L671.38,890.15L672.96,890.49L674.55,890.82L676.15,891.14L677.75,891.46L679.34,891.77L680.92,892.08L682.50,892.40L684.06,892.72L685.62,893.02L687.17,893.33L688.72,893.64L690.26,893.94L691.81,894.26L693.35,894.57L694.90,894.90L696.45,895.22L698.00,895.53L699.55,895.83L701.11,896.14L702.66,896.48L704.21,896.84L705.75,897.24L707.30,897.70L708.84,898.21L710.38,898.76L711.92,899.34L713.45,899.96L714.98,900.61L716.52,901.29L718.06,901.98L719.60,902.70L721.16,903.45L722.74,904.24L724.33,905.05L725.91,905.89L727.48,906.75L729.03,907.61L730.54,908.46L732.00,909.30L733.41,910.13L734.77,910.97L736.09,911.81L737.39,912.66L738.67,913.50L739.94,914.34L741.21,915.17L742.50,916.00L743.79,916.82L745.08,917.62L746.36,918.41L747.64,919.21L748.91,920.01L750.18,920.82L751.44,921.65L752.70,922.50L753.95,923.38L755.18,924.27L756.40,925.17L757.62,926.09L758.84,927.02L760.08,927.97L761.33,928.93L762.60,929.90L763.89,930.91L765.20,931.97L766.51,933.06L767.84,934.15L769.19,935.23L770.54,936.28L771.91,937.28L773.30,938.20L774.78,939.08L776.37,939.95L778.02,940.79L779.67,941.59L781.24,942.32L782.68,942.98L783.92,943.55L784.90,944.00L785.59,944.32L786.04,944.51L786.30,944.60L786.43,944.61L786.46,944.58L786.45,944.53L786.44,944.50L786.50,944.50" clip-path="url(#c11)" stroke="#000" stroke-width="3" stroke-dasharray="1.6,11.25" fill="none"/>
<path d="M1007.70,938.40L1008.36,937.31L1009.26,935.81L1010.32,934.01L1011.49,932.05L1012.73,930.04L1013.96,928.09L1015.14,926.34L1016.20,924.90L1017.17,923.74L1018.10,922.73L1019.00,921.84L1019.89,921.06L1020.77,920.36L1021.66,919.72L1022.57,919.10L1023.50,918.50L1024.40,917.93L1025.24,917.41L1026.06,916.95L1026.90,916.53L1027.81,916.15L1028.83,915.81L1030.02,915.50L1031.40,915.20L1033.07,914.95L1035.03,914.75L1037.17,914.59L1039.41,914.46L1041.66,914.34L1043.82,914.22L1045.80,914.08L1047.50,913.90L1048.92,913.69L1050.14,913.46L1051.21,913.21L1052.18,912.96L1053.09,912.71L1054.00,912.46L1054.95,912.22L1056.00,912.00L1057.15,911.79L1058.35,911.58L1059.59,911.37L1060.82,911.17L1062.04,910.99L1063.21,910.81L1064.30,910.65L1065.30,910.50L1066.15,910.35L1066.87,910.19L1067.50,910.03L1068.09,909.89L1068.68,909.78L1069.34,909.72L1070.09,909.72L1071.00,909.80L1072.08,909.97L1073.29,910.23L1074.60,910.55L1075.96,910.92L1077.35,911.32L1078.73,911.72L1080.06,912.12L1081.30,912.50L1082.47,912.87L1083.60,913.26L1084.70,913.66L1085.78,914.06L1086.84,914.46L1087.89,914.83L1088.94,915.19L1090.00,915.50L1091.07,915.78L1092.14,916.04L1093.21,916.27L1094.27,916.48L1095.32,916.68L1096.35,916.86L1097.34,917.03L1098.30,917.20L1099.19,917.37L1100.01,917.56L1100.78,917.75L1101.53,917.91L1102.30,918.05L1103.12,918.13L1104.01,918.16L1105.00,918.10L1106.12,917.96L1107.34,917.74L1108.63,917.46L1109.97,917.13L1111.32,916.77L1112.67,916.38L1113.97,915.99L1115.20,915.60L1116.37,915.19L1117.51,914.72L1118.63,914.23L1119.73,913.72L1120.81,913.22L1121.88,912.76L1122.94,912.34L1124.00,912.00L1125.05,911.72L1126.08,911.46L1127.10,911.25L1128.11,911.07L1129.11,910.93L1130.11,910.84L1131.10,910.79L1132.10,910.80L1133.10,910.86L1134.10,910.97L1135.10,911.13L1136.09,911.33L1137.08,911.57L1138.06,911.85L1139.04,912.16L1140.00,912.50L1140.95,912.87L1141.88,913.28L1142.80,913.73L1143.72,914.21L1144.63,914.72L1145.55,915.25L1146.47,915.82L1147.40,916.40L1148.35,917.03L1149.30,917.70L1150.27,918.42L1151.24,919.16L1152.20,919.90L1153.15,920.63L1154.09,921.34L1155.00,922.00L1155.88,922.63L1156.72,923.26L1157.55,923.87L1158.36,924.47L1159.18,925.04L1160.02,925.59L1160.89,926.11L1161.80,926.60L1162.76,927.06L1163.76,927.49L1164.79,927.90L1165.84,928.29L1166.89,928.64L1167.95,928.96L1168.98,929.25L1170.00,929.50L1170.95,929.70L1171.82,929.86L1172.65,929.98L1173.49,930.07L1174.39,930.14L1175.37,930.19L1176.50,930.24L1177.80,930.30L1179.41,930.36L1181.33,930.40L1183.45,930.43L1185.64,930.45L1187.76,930.47L1189.70,930.48L1191.32,930.49L1192.50,930.50" clip-path="url(#c12)" stroke="#000" stroke-width="2.8" stroke-dasharray="17.4,17.1" fill="none"/>
<path d="M1007.70,957.90L1008.55,957.31L1009.70,956.54L1011.05,955.61L1012.56,954.58L1014.15,953.49L1015.75,952.39L1017.29,951.31L1018.70,950.30L1020.01,949.35L1021.31,948.40L1022.59,947.45L1023.86,946.50L1025.12,945.54L1026.38,944.58L1027.64,943.60L1028.90,942.60L1030.17,941.58L1031.43,940.53L1032.69,939.47L1033.95,938.39L1035.21,937.32L1036.47,936.26L1037.73,935.22L1039.00,934.20L1040.26,933.21L1041.52,932.25L1042.78,931.30L1044.04,930.36L1045.31,929.42L1046.59,928.49L1047.89,927.55L1049.20,926.60L1050.54,925.63L1051.91,924.64L1053.31,923.64L1054.71,922.64L1056.11,921.66L1057.49,920.70L1058.86,919.78L1060.20,918.90L1061.49,918.07L1062.73,917.28L1063.94,916.52L1065.14,915.79L1066.36,915.07L1067.61,914.38L1068.92,913.69L1070.30,913.00L1071.76,912.31L1073.29,911.61L1074.87,910.91L1076.49,910.24L1078.12,909.59L1079.76,908.97L1081.39,908.41L1083.00,907.90L1084.59,907.45L1086.17,907.03L1087.76,906.66L1089.35,906.33L1090.94,906.04L1092.53,905.79L1094.11,905.58L1095.70,905.40L1097.29,905.27L1098.88,905.18L1100.46,905.13L1102.05,905.12L1103.64,905.14L1105.23,905.20L1106.81,905.29L1108.40,905.40L1109.99,905.55L1111.58,905.73L1113.16,905.96L1114.75,906.21L1116.34,906.48L1117.92,906.78L1119.51,907.08L1121.10,907.40L1122.69,907.73L1124.27,908.07L1125.86,908.43L1127.45,908.81L1129.04,909.21L1130.62,909.62L1132.21,910.05L1133.80,910.50L1135.39,910.99L1136.98,911.54L1138.58,912.12L1140.17,912.71L1141.76,913.28L1143.35,913.82L1144.93,914.30L1146.50,914.70L1148.06,915.01L1149.61,915.26L1151.15,915.46L1152.68,915.61L1154.22,915.74L1155.76,915.86L1157.32,915.97L1158.90,916.10L1160.50,916.23L1162.11,916.36L1163.74,916.48L1165.38,916.59L1167.02,916.68L1168.66,916.77L1170.29,916.84L1171.90,916.90L1173.53,916.94L1175.21,916.96L1176.90,916.96L1178.57,916.95L1180.20,916.94L1181.77,916.92L1183.24,916.91L1184.60,916.90L1185.87,916.90L1187.10,916.90L1188.26,916.90L1189.34,916.90L1190.33,916.90L1191.19,916.90L1191.92,916.90L1192.50,916.90" clip-path="url(#c12)" stroke="#000" stroke-width="3" stroke-dasharray="1.6,11.25" fill="none"/>
<path d="M600.70,1652.30L601.27,1651.08L602.05,1649.46L602.99,1647.54L604.02,1645.40L605.07,1643.12L606.07,1640.79L606.97,1638.49L607.70,1636.30L608.25,1634.16L608.68,1631.97L609.03,1629.73L609.33,1627.48L609.60,1625.23L609.88,1623.00L610.20,1620.82L610.60,1618.70L611.07,1616.66L611.58,1614.70L612.12,1612.78L612.68,1610.88L613.23,1608.98L613.78,1607.05L614.31,1605.06L614.80,1603.00L615.24,1600.96L615.65,1599.01L616.03,1597.08L616.41,1595.09L616.78,1592.95L617.18,1590.59L617.62,1587.93L618.10,1584.90L618.65,1581.29L619.27,1577.11L619.93,1572.54L620.60,1567.80L621.27,1563.07L621.91,1558.57L622.49,1554.47L623.00,1551.00L623.42,1548.18L623.77,1545.85L624.08,1543.88L624.35,1542.16L624.61,1540.56L624.88,1538.97L625.17,1537.25L625.50,1535.30L625.89,1533.13L626.31,1530.87L626.75,1528.55L627.20,1526.20L627.64,1523.86L628.07,1521.56L628.46,1519.33L628.80,1517.20L629.07,1515.22L629.28,1513.36L629.45,1511.59L629.60,1509.86L629.76,1508.11L629.94,1506.29L630.18,1504.38L630.50,1502.30L630.91,1500.03L631.39,1497.58L631.93,1495.02L632.50,1492.40L633.07,1489.78L633.63,1487.22L634.15,1484.77L634.60,1482.50L634.98,1480.42L635.30,1478.51L635.58,1476.69L635.85,1474.94L636.12,1473.21L636.40,1471.44L636.72,1469.58L637.10,1467.60L637.54,1465.47L638.03,1463.24L638.56,1460.94L639.10,1458.60L639.65,1456.25L640.19,1453.93L640.71,1451.67L641.20,1449.50L641.64,1447.44L642.04,1445.46L642.42,1443.55L642.79,1441.66L643.17,1439.77L643.57,1437.84L644.01,1435.87L644.50,1433.80L645.03,1431.61L645.57,1429.31L646.15,1426.94L646.74,1424.54L647.37,1422.17L648.04,1419.86L648.75,1417.65L649.50,1415.60L650.28,1413.55L651.06,1411.39L651.88,1409.23L652.74,1407.19L653.65,1405.38L654.64,1403.90L655.72,1402.87L656.90,1402.40L658.25,1402.57L659.78,1403.30L661.44,1404.48L663.15,1405.99L664.86,1407.73L666.49,1409.57L667.99,1411.40L669.30,1413.10L670.41,1414.74L671.40,1416.45L672.27,1418.23L673.07,1420.08L673.80,1421.99L674.51,1423.94L675.20,1425.95L675.90,1428.00L676.59,1430.14L677.24,1432.40L677.86,1434.73L678.45,1437.11L679.03,1439.48L679.61,1441.81L680.19,1444.07L680.80,1446.20L681.43,1448.19L682.06,1450.06L682.71,1451.85L683.35,1453.60L683.99,1455.35L684.61,1457.14L685.22,1459.01L685.80,1461.00L686.34,1463.14L686.85,1465.39L687.33,1467.73L687.80,1470.10L688.28,1472.47L688.78,1474.81L689.31,1477.06L689.90,1479.20L690.56,1481.19L691.27,1483.06L692.03,1484.85L692.80,1486.60L693.57,1488.35L694.33,1490.14L695.04,1492.01L695.70,1494.00L696.28,1496.13L696.79,1498.39L697.25,1500.72L697.70,1503.09L698.15,1505.47L698.64,1507.80L699.18,1510.06L699.80,1512.20L700.51,1514.21L701.29,1516.12L702.13,1517.96L702.99,1519.76L703.87,1521.54L704.75,1523.34L705.60,1525.18L706.40,1527.10L707.15,1529.10L707.87,1531.15L708.56,1533.24L709.25,1535.35L709.94,1537.46L710.66,1539.55L711.40,1541.60L712.20,1543.60L713.06,1545.59L713.96,1547.61L714.90,1549.63L715.86,1551.61L716.83,1553.52L717.78,1555.33L718.71,1557.00L719.60,1558.50L720.44,1559.82L721.24,1560.98L722.02,1562.01L722.78,1562.93L723.55,1563.77L724.33,1564.54L725.14,1565.28L726.00,1566.00L726.88,1566.76L727.76,1567.57L728.66,1568.37L729.58,1569.09L730.54,1569.67L731.53,1570.06L732.59,1570.19L733.70,1570.00L734.90,1569.46L736.20,1568.62L737.56,1567.53L738.96,1566.23L740.37,1564.79L741.77,1563.25L743.12,1561.67L744.40,1560.10L745.62,1558.48L746.81,1556.74L747.96,1554.91L749.10,1553.01L750.22,1551.06L751.32,1549.09L752.41,1547.13L753.50,1545.20L754.59,1543.23L755.68,1541.15L756.76,1539.03L757.83,1536.91L758.88,1534.86L759.89,1532.92L760.87,1531.15L761.80,1529.60L762.67,1528.23L763.48,1526.97L764.24,1525.84L764.98,1524.84L765.71,1523.99L766.44,1523.31L767.20,1522.81L768.00,1522.50L768.84,1522.38L769.70,1522.43L770.58,1522.64L771.47,1523.03L772.37,1523.59L773.26,1524.32L774.14,1525.22L775.00,1526.30L775.86,1527.67L776.72,1529.39L777.58,1531.35L778.43,1533.44L779.27,1535.57L780.08,1537.63L780.86,1539.50L781.60,1541.10L782.33,1542.47L783.06,1543.75L783.78,1544.92L784.46,1545.97L785.10,1546.92L785.66,1547.74L786.13,1548.44L786.50,1549.00" clip-path="url(#c21)" stroke="#000" stroke-width="2.8" stroke-dasharray="17.4,17.1" fill="none"/>
<path d="M602.00,1632.30L602.18,1631.36L602.41,1630.11L602.69,1628.62L603.00,1626.96L603.33,1625.20L603.66,1623.41L603.99,1621.66L604.30,1620.00L604.60,1618.41L604.90,1616.79L605.20,1615.16L605.50,1613.53L605.80,1611.88L606.10,1610.25L606.40,1608.62L606.70,1607.00L606.99,1605.40L607.29,1603.80L607.58,1602.21L607.88,1600.62L608.16,1599.04L608.45,1597.46L608.73,1595.88L609.00,1594.30L609.26,1592.72L609.52,1591.15L609.77,1589.57L610.02,1588.00L610.26,1586.43L610.51,1584.85L610.75,1583.28L611.00,1581.70L611.25,1580.12L611.50,1578.54L611.76,1576.96L612.01,1575.38L612.26,1573.79L612.51,1572.20L612.76,1570.60L613.00,1569.00L613.24,1567.39L613.47,1565.76L613.70,1564.12L613.93,1562.48L614.15,1560.84L614.37,1559.21L614.59,1557.60L614.80,1556.00L615.01,1554.43L615.21,1552.88L615.41,1551.34L615.61,1549.81L615.80,1548.28L616.00,1546.74L616.20,1545.18L616.40,1543.60L616.60,1541.98L616.80,1540.34L617.00,1538.67L617.19,1537.00L617.40,1535.33L617.62,1533.66L617.85,1532.02L618.10,1530.40L618.38,1528.81L618.69,1527.24L619.02,1525.69L619.36,1524.15L619.69,1522.61L620.02,1521.08L620.33,1519.54L620.60,1518.00L620.84,1516.46L621.04,1514.92L621.23,1513.39L621.40,1511.85L621.57,1510.31L621.76,1508.76L621.96,1507.19L622.20,1505.60L622.47,1503.98L622.76,1502.34L623.07,1500.67L623.39,1499.00L623.72,1497.33L624.05,1495.66L624.38,1494.02L624.70,1492.40L625.01,1490.82L625.33,1489.26L625.64,1487.73L625.96,1486.20L626.27,1484.67L626.58,1483.14L626.89,1481.58L627.20,1480.00L627.51,1478.38L627.82,1476.74L628.14,1475.07L628.45,1473.40L628.76,1471.73L629.05,1470.06L629.33,1468.42L629.60,1466.80L629.84,1465.21L630.04,1463.64L630.22,1462.09L630.39,1460.55L630.58,1459.01L630.78,1457.48L631.02,1455.94L631.30,1454.40L631.64,1452.85L632.01,1451.30L632.42,1449.75L632.85,1448.20L633.29,1446.65L633.74,1445.10L634.18,1443.55L634.60,1442.00L635.01,1440.45L635.41,1438.90L635.80,1437.35L636.20,1435.80L636.60,1434.25L637.02,1432.70L637.45,1431.15L637.90,1429.60L638.35,1428.04L638.77,1426.46L639.19,1424.88L639.64,1423.29L640.12,1421.73L640.66,1420.18L641.28,1418.67L642.00,1417.20L642.83,1415.68L643.74,1414.06L644.73,1412.41L645.79,1410.82L646.89,1409.35L648.01,1408.09L649.16,1407.12L650.30,1406.50L651.48,1406.25L652.74,1406.31L654.04,1406.62L655.36,1407.16L656.66,1407.86L657.92,1408.70L659.11,1409.63L660.20,1410.60L661.20,1411.69L662.14,1412.97L663.03,1414.40L663.86,1415.93L664.65,1417.52L665.40,1419.12L666.12,1420.70L666.80,1422.20L667.43,1423.64L668.00,1425.08L668.52,1426.51L669.00,1427.95L669.47,1429.39L669.93,1430.84L670.40,1432.31L670.90,1433.80L671.42,1435.31L671.95,1436.85L672.47,1438.40L673.00,1439.96L673.53,1441.52L674.05,1443.09L674.58,1444.65L675.10,1446.20L675.62,1447.74L676.13,1449.28L676.64,1450.82L677.16,1452.35L677.67,1453.88L678.18,1455.42L678.69,1456.96L679.20,1458.50L679.71,1460.05L680.23,1461.59L680.74,1463.14L681.25,1464.69L681.76,1466.25L682.28,1467.80L682.79,1469.35L683.30,1470.90L683.82,1472.45L684.34,1474.00L684.87,1475.55L685.40,1477.10L685.92,1478.65L686.43,1480.20L686.93,1481.75L687.40,1483.30L687.84,1484.85L688.26,1486.40L688.66,1487.95L689.04,1489.50L689.43,1491.05L689.83,1492.60L690.25,1494.15L690.70,1495.70L691.18,1497.25L691.69,1498.80L692.21,1500.35L692.75,1501.90L693.29,1503.45L693.84,1505.00L694.37,1506.55L694.90,1508.10L695.42,1509.66L695.93,1511.22L696.44,1512.79L696.96,1514.36L697.47,1515.92L697.98,1517.46L698.49,1518.99L699.00,1520.50L699.50,1521.97L699.97,1523.42L700.43,1524.84L700.89,1526.25L701.38,1527.66L701.90,1529.08L702.47,1530.53L703.10,1532.00L703.79,1533.53L704.53,1535.10L705.32,1536.71L706.14,1538.32L706.99,1539.92L707.87,1541.48L708.78,1542.98L709.70,1544.40L710.65,1545.75L711.64,1547.06L712.65,1548.32L713.69,1549.54L714.75,1550.72L715.83,1551.86L716.91,1552.95L718.00,1554.00L719.08,1555.06L720.14,1556.15L721.21,1557.23L722.29,1558.26L723.41,1559.18L724.57,1559.96L725.80,1560.54L727.10,1560.90L728.50,1561.00L730.01,1560.89L731.58,1560.59L733.20,1560.14L734.83,1559.59L736.44,1558.95L738.01,1558.28L739.50,1557.60L740.92,1556.88L742.31,1556.06L743.67,1555.16L745.01,1554.21L746.32,1553.22L747.62,1552.21L748.91,1551.20L750.20,1550.20L751.46,1549.19L752.69,1548.15L753.90,1547.08L755.09,1546.00L756.30,1544.93L757.52,1543.88L758.79,1542.86L760.10,1541.90L761.47,1540.97L762.88,1540.05L764.33,1539.16L765.80,1538.29L767.28,1537.46L768.77,1536.68L770.24,1535.96L771.70,1535.30L773.20,1534.71L774.77,1534.18L776.38,1533.70L777.97,1533.27L779.49,1532.89L780.90,1532.55L782.16,1532.26L783.20,1532.00L784.03,1531.80L784.68,1531.67L785.18,1531.59L785.57,1531.54L785.86,1531.53L786.10,1531.52L786.30,1531.52L786.50,1531.50" clip-path="url(#c21)" stroke="#000" stroke-width="3" stroke-dasharray="1.6,11.25" fill="none"/>
<path d="M1006.90,1607.00L1007.23,1608.32L1007.67,1610.08L1008.20,1612.16L1008.79,1614.49L1009.40,1616.95L1010.01,1619.45L1010.58,1621.90L1011.10,1624.20L1011.55,1626.41L1011.97,1628.67L1012.36,1630.95L1012.75,1633.22L1013.14,1635.49L1013.56,1637.72L1014.00,1639.90L1014.50,1642.00L1015.05,1644.05L1015.63,1646.09L1016.24,1648.08L1016.87,1650.04L1017.52,1651.94L1018.18,1653.77L1018.84,1655.53L1019.50,1657.20L1020.16,1658.79L1020.84,1660.32L1021.52,1661.77L1022.21,1663.16L1022.91,1664.48L1023.61,1665.73L1024.30,1666.90L1025.00,1668.00L1025.70,1669.05L1026.40,1670.07L1027.10,1671.03L1027.81,1671.91L1028.51,1672.69L1029.21,1673.35L1029.91,1673.86L1030.60,1674.20L1031.29,1674.35L1032.00,1674.34L1032.71,1674.17L1033.41,1673.88L1034.09,1673.49L1034.76,1673.04L1035.40,1672.53L1036.00,1672.00L1036.55,1671.49L1037.03,1670.98L1037.48,1670.44L1037.92,1669.82L1038.36,1669.08L1038.82,1668.18L1039.33,1667.07L1039.90,1665.70L1040.55,1664.01L1041.25,1662.00L1042.00,1659.75L1042.78,1657.36L1043.56,1654.89L1044.33,1652.44L1045.09,1650.08L1045.80,1647.90L1046.49,1645.89L1047.17,1643.98L1047.85,1642.12L1048.51,1640.30L1049.15,1638.48L1049.76,1636.62L1050.35,1634.71L1050.90,1632.70L1051.40,1630.59L1051.85,1628.39L1052.26,1626.14L1052.66,1623.86L1053.04,1621.56L1053.43,1619.29L1053.85,1617.06L1054.30,1614.90L1054.79,1612.82L1055.29,1610.80L1055.82,1608.81L1056.35,1606.85L1056.89,1604.89L1057.43,1602.90L1057.97,1600.88L1058.50,1598.80L1059.03,1596.64L1059.57,1594.43L1060.11,1592.17L1060.65,1589.89L1061.18,1587.62L1061.71,1585.36L1062.21,1583.15L1062.70,1581.00L1063.16,1578.92L1063.61,1576.90L1064.03,1574.91L1064.45,1572.95L1064.86,1570.99L1065.27,1569.03L1065.68,1567.04L1066.10,1565.00L1066.52,1562.92L1066.93,1560.82L1067.34,1558.69L1067.75,1556.56L1068.17,1554.41L1068.59,1552.27L1069.04,1550.13L1069.50,1548.00L1069.99,1545.88L1070.49,1543.77L1071.01,1541.66L1071.54,1539.54L1072.08,1537.43L1072.62,1535.32L1073.16,1533.21L1073.70,1531.10L1074.22,1528.98L1074.71,1526.84L1075.20,1524.69L1075.69,1522.55L1076.21,1520.42L1076.75,1518.31L1077.35,1516.24L1078.00,1514.20L1078.70,1512.20L1079.42,1510.22L1080.18,1508.27L1080.98,1506.34L1081.83,1504.44L1082.72,1502.56L1083.68,1500.72L1084.70,1498.90L1085.83,1497.05L1087.08,1495.14L1088.42,1493.22L1089.79,1491.35L1091.17,1489.58L1092.51,1487.96L1093.76,1486.55L1094.90,1485.40L1095.90,1484.52L1096.80,1483.87L1097.63,1483.40L1098.41,1483.10L1099.18,1482.93L1099.97,1482.86L1100.80,1482.86L1101.70,1482.90L1102.66,1482.96L1103.63,1483.08L1104.62,1483.26L1105.64,1483.54L1106.69,1483.95L1107.78,1484.51L1108.91,1485.25L1110.10,1486.20L1111.37,1487.40L1112.73,1488.86L1114.14,1490.51L1115.59,1492.31L1117.04,1494.19L1118.46,1496.10L1119.83,1497.99L1121.10,1499.80L1122.29,1501.56L1123.42,1503.33L1124.51,1505.11L1125.56,1506.90L1126.59,1508.71L1127.60,1510.52L1128.60,1512.36L1129.60,1514.20L1130.59,1516.06L1131.54,1517.94L1132.48,1519.84L1133.40,1521.75L1134.32,1523.66L1135.26,1525.58L1136.21,1527.49L1137.20,1529.40L1138.22,1531.30L1139.26,1533.20L1140.33,1535.10L1141.40,1536.99L1142.48,1538.89L1143.56,1540.79L1144.64,1542.70L1145.70,1544.60L1146.75,1546.60L1147.80,1548.72L1148.85,1550.89L1149.90,1553.04L1150.95,1555.10L1152.00,1556.97L1153.05,1558.60L1154.10,1559.90L1155.17,1560.86L1156.26,1561.54L1157.35,1561.99L1158.45,1562.26L1159.53,1562.39L1160.59,1562.43L1161.62,1562.41L1162.60,1562.40L1163.54,1562.36L1164.45,1562.23L1165.33,1562.02L1166.18,1561.74L1167.01,1561.38L1167.82,1560.95L1168.62,1560.46L1169.40,1559.90L1170.16,1559.25L1170.89,1558.48L1171.60,1557.63L1172.29,1556.71L1172.97,1555.77L1173.64,1554.81L1174.32,1553.88L1175.00,1553.00L1175.68,1552.15L1176.35,1551.31L1177.02,1550.47L1177.68,1549.64L1178.35,1548.80L1179.02,1547.97L1179.70,1547.14L1180.40,1546.30L1181.11,1545.40L1181.83,1544.42L1182.56,1543.41L1183.30,1542.41L1184.04,1541.48L1184.79,1540.67L1185.54,1540.03L1186.30,1539.60L1187.10,1539.44L1187.97,1539.51L1188.88,1539.77L1189.77,1540.13L1190.62,1540.55L1191.38,1540.96L1192.02,1541.29L1192.50,1541.50" clip-path="url(#c22)" stroke="#000" stroke-width="2.8" stroke-dasharray="17.4,17.1" fill="none"/>
<path d="M1007.70,1592.90L1007.83,1593.88L1008.01,1595.18L1008.21,1596.73L1008.44,1598.46L1008.69,1600.28L1008.94,1602.13L1009.18,1603.93L1009.40,1605.60L1009.61,1607.19L1009.81,1608.77L1010.00,1610.36L1010.20,1611.95L1010.40,1613.54L1010.62,1615.12L1010.85,1616.71L1011.10,1618.30L1011.37,1619.89L1011.67,1621.47L1011.97,1623.06L1012.29,1624.65L1012.62,1626.24L1012.95,1627.83L1013.28,1629.41L1013.60,1631.00L1013.91,1632.59L1014.21,1634.20L1014.50,1635.80L1014.79,1637.41L1015.10,1639.00L1015.44,1640.59L1015.80,1642.16L1016.20,1643.70L1016.65,1645.25L1017.14,1646.84L1017.66,1648.42L1018.21,1649.99L1018.76,1651.50L1019.32,1652.94L1019.87,1654.28L1020.40,1655.50L1020.92,1656.60L1021.42,1657.60L1021.93,1658.52L1022.44,1659.36L1022.94,1660.12L1023.46,1660.82L1023.97,1661.44L1024.50,1662.00L1025.04,1662.51L1025.60,1662.96L1026.16,1663.34L1026.73,1663.66L1027.30,1663.89L1027.85,1664.03L1028.39,1664.07L1028.90,1664.00L1029.39,1663.81L1029.87,1663.49L1030.33,1663.07L1030.78,1662.56L1031.22,1661.98L1031.65,1661.35L1032.08,1660.68L1032.50,1660.00L1032.90,1659.30L1033.26,1658.58L1033.61,1657.81L1033.96,1656.99L1034.31,1656.12L1034.70,1655.16L1035.12,1654.13L1035.60,1653.00L1036.15,1651.75L1036.77,1650.39L1037.44,1648.93L1038.13,1647.41L1038.82,1645.84L1039.50,1644.25L1040.13,1642.66L1040.70,1641.10L1041.21,1639.54L1041.67,1637.96L1042.10,1636.36L1042.51,1634.74L1042.90,1633.13L1043.29,1631.53L1043.69,1629.95L1044.10,1628.40L1044.52,1626.89L1044.95,1625.41L1045.38,1623.95L1045.80,1622.50L1046.22,1621.05L1046.65,1619.59L1047.07,1618.11L1047.50,1616.60L1047.93,1615.06L1048.37,1613.49L1048.81,1611.90L1049.26,1610.31L1049.69,1608.70L1050.11,1607.10L1050.52,1605.49L1050.90,1603.90L1051.25,1602.31L1051.57,1600.73L1051.86,1599.14L1052.15,1597.55L1052.44,1595.96L1052.73,1594.38L1053.05,1592.79L1053.40,1591.20L1053.79,1589.61L1054.21,1588.03L1054.65,1586.44L1055.10,1584.85L1055.55,1583.26L1055.99,1581.67L1056.41,1580.09L1056.80,1578.50L1057.15,1576.91L1057.49,1575.33L1057.80,1573.74L1058.10,1572.15L1058.39,1570.56L1058.69,1568.97L1058.99,1567.39L1059.30,1565.80L1059.61,1564.21L1059.92,1562.62L1060.23,1561.04L1060.54,1559.45L1060.86,1557.86L1061.19,1556.27L1061.54,1554.69L1061.90,1553.10L1062.29,1551.51L1062.71,1549.90L1063.16,1548.30L1063.61,1546.69L1064.06,1545.10L1064.49,1543.51L1064.91,1541.94L1065.30,1540.40L1065.64,1538.89L1065.95,1537.41L1066.23,1535.95L1066.50,1534.50L1066.78,1533.05L1067.08,1531.59L1067.41,1530.11L1067.80,1528.60L1068.24,1527.05L1068.73,1525.47L1069.25,1523.87L1069.79,1522.26L1070.34,1520.64L1070.90,1519.04L1071.46,1517.46L1072.00,1515.90L1072.53,1514.37L1073.05,1512.87L1073.57,1511.37L1074.10,1509.89L1074.63,1508.42L1075.17,1506.95L1075.73,1505.48L1076.30,1504.00L1076.87,1502.51L1077.42,1501.01L1077.97,1499.50L1078.54,1497.99L1079.14,1496.50L1079.79,1495.04L1080.50,1493.60L1081.30,1492.20L1082.18,1490.76L1083.12,1489.24L1084.12,1487.70L1085.17,1486.21L1086.28,1484.82L1087.42,1483.62L1088.59,1482.66L1089.80,1482.00L1091.07,1481.65L1092.41,1481.55L1093.82,1481.67L1095.25,1481.97L1096.69,1482.44L1098.11,1483.04L1099.49,1483.73L1100.80,1484.50L1102.06,1485.40L1103.30,1486.49L1104.52,1487.73L1105.71,1489.07L1106.87,1490.48L1107.99,1491.91L1109.07,1493.33L1110.10,1494.70L1111.08,1496.04L1112.00,1497.39L1112.87,1498.77L1113.71,1500.15L1114.53,1501.54L1115.32,1502.93L1116.11,1504.32L1116.90,1505.70L1117.68,1507.07L1118.44,1508.43L1119.18,1509.79L1119.91,1511.14L1120.63,1512.51L1121.35,1513.89L1122.07,1515.28L1122.80,1516.70L1123.54,1518.15L1124.27,1519.63L1125.01,1521.14L1125.74,1522.65L1126.48,1524.16L1127.22,1525.67L1127.96,1527.15L1128.70,1528.60L1129.44,1530.02L1130.18,1531.41L1130.91,1532.79L1131.65,1534.16L1132.39,1535.51L1133.15,1536.87L1133.92,1538.23L1134.70,1539.60L1135.49,1540.99L1136.28,1542.39L1137.08,1543.80L1137.89,1545.21L1138.72,1546.60L1139.58,1547.97L1140.47,1549.31L1141.40,1550.60L1142.35,1551.87L1143.32,1553.12L1144.31,1554.36L1145.33,1555.57L1146.38,1556.74L1147.49,1557.85L1148.66,1558.91L1149.90,1559.90L1151.23,1560.84L1152.64,1561.75L1154.12,1562.62L1155.64,1563.43L1157.20,1564.17L1158.75,1564.82L1160.29,1565.37L1161.80,1565.80L1163.28,1566.12L1164.75,1566.33L1166.23,1566.46L1167.70,1566.49L1169.17,1566.43L1170.65,1566.30L1172.12,1566.08L1173.60,1565.80L1175.12,1565.39L1176.68,1564.83L1178.27,1564.16L1179.85,1563.42L1181.39,1562.66L1182.87,1561.93L1184.25,1561.26L1185.50,1560.70L1186.66,1560.23L1187.76,1559.79L1188.79,1559.39L1189.74,1559.03L1190.60,1558.71L1191.36,1558.43L1191.99,1558.19L1192.50,1558.00" clip-path="url(#c22)" stroke="#000" stroke-width="3" stroke-dasharray="1.6,11.25" fill="none"/>
<path d="M104.50,251.30L105.20,256.62L105.90,279.50L106.73,281.57L107.57,273.30L108.40,260.70L109.40,265.47L110.40,282.00L111.10,276.56L111.80,270.12L112.50,266.00L113.30,260.10L114.10,253.86L114.90,237.40L116.20,288.40L117.00,262.30L117.80,255.70L118.55,255.53L119.30,278.00L120.05,274.16L120.80,254.20L121.80,270.69L122.80,290.40L123.80,281.34L124.80,259.70L126.00,268.00L127.30,253.70L128.40,262.00L129.50,250.80L130.50,291.90L131.27,272.65L132.03,275.99L132.80,270.00L133.60,269.58L134.40,252.02L135.20,252.80L136.20,276.02L137.20,287.50L138.20,290.40L139.15,261.28L140.10,254.70L140.85,260.66L141.60,289.40L142.60,248.80L143.77,260.69L144.93,281.14L146.10,281.50L146.85,266.40L147.60,257.00L148.60,247.10L149.60,250.80L150.55,261.78L151.50,276.50L152.33,253.63L153.17,246.69L154.00,241.80L155.00,263.11L156.00,287.40L156.75,270.95L157.50,254.70L158.45,256.94L159.40,272.00L160.40,256.89L161.40,254.70L162.40,257.40L163.40,273.60L164.20,271.33L165.00,271.00L166.13,261.19L167.27,249.98L168.40,256.70L169.40,284.50L170.60,252.80L171.67,272.27L172.73,276.89L173.80,286.90L174.63,283.55L175.47,265.83L176.30,266.60L177.30,281.42L178.30,272.60L179.03,272.64L179.77,246.30L180.50,246.80L181.27,250.38L182.03,267.32L182.80,269.60L183.60,276.34L184.40,283.41L185.20,274.60L186.03,271.20L186.87,279.45L187.70,270.00L188.53,266.19L189.37,249.48L190.20,246.30L191.20,263.00L192.20,275.50L192.95,271.33L193.70,248.80L194.67,266.34L195.63,267.39L196.60,276.50L197.35,264.79L198.10,248.80L199.43,246.23L200.77,259.83L202.10,274.60L202.93,269.34L203.77,247.74L204.60,237.40L205.80,297.80L206.53,275.25L207.27,269.57L208.00,253.70L209.00,269.97L210.00,276.50L210.83,279.72L211.67,271.56L212.50,273.60L213.50,262.19L214.50,253.70L215.63,264.00L216.77,280.58L217.90,284.00L218.65,272.85L219.40,260.70L220.90,272.00L221.60,234.00L223.00,232.60L225.90,221.00L227.40,234.00L227.90,262.00L229.50,277.40L232.10,382.90L234.60,341.00L236.50,183.50L237.90,177.70L240.00,141.60L242.00,149.00L242.80,187.00L244.70,263.00L246.10,274.50L247.90,341.70L250.50,316.40L251.90,270.20L254.10,244.20L256.60,239.00L257.50,263.18L258.40,276.21L259.30,278.70L260.00,259.46L260.70,251.54L261.40,252.90L262.35,272.50L263.30,276.00L264.25,267.16L265.20,247.00L265.90,262.34L266.60,264.93L267.30,280.80L268.15,270.49L269.00,255.10L269.70,266.23L270.40,274.18L271.10,280.80L271.83,266.53L272.57,267.00L273.30,262.60L274.00,262.18L274.70,272.22L275.40,269.00L276.10,277.68L276.80,273.39L277.50,259.40L278.60,276.50L279.67,268.63L280.73,257.31L281.80,249.70L282.45,260.79L283.10,283.00L283.80,253.61L284.50,246.50L285.33,237.99L286.17,251.32L287.00,255.00L287.80,256.04L288.60,262.92L289.40,271.20L290.27,284.17L291.13,278.95L292.00,281.90L293.10,249.20L293.90,253.25L294.70,248.07L295.50,257.00L296.30,244.57L297.10,250.80L297.90,254.00L298.50,271.00L299.40,258.05L300.30,262.78L301.20,258.30L302.00,283.67L302.80,285.10L303.50,291.45L304.20,281.80L304.90,291.60L305.80,294.85L306.70,286.32L307.60,273.00L308.67,272.99L309.73,271.49L310.80,256.10L311.90,269.00L312.97,269.04L314.03,263.42L315.10,250.20L316.17,255.46L317.23,279.28L318.30,276.50L319.40,246.50L320.10,267.09L320.80,257.37L321.50,275.00L322.23,275.76L322.97,269.50L323.70,259.00L324.80,287.30L325.90,252.90L326.77,249.64L327.63,248.96L328.50,245.90L329.40,257.29L330.30,279.36L331.20,280.80L332.10,266.15L333.00,259.42L333.90,236.80L334.70,249.89L335.50,270.00L336.23,273.86L336.97,268.93L337.70,254.00L338.70,280.80L339.60,271.63L340.50,265.96L341.40,256.10L342.50,291.60L343.20,292.35L343.90,278.30L344.60,263.60L345.45,275.63L346.30,288.30L347.00,271.79L347.70,264.43L348.40,258.80L349.50,283.00L350.93,275.79L352.37,250.99L353.80,247.00L354.70,265.92L355.60,259.70L356.50,274.40L357.20,276.94L357.90,255.16L358.60,252.40L359.87,264.98L361.13,260.55L362.40,257.20L363.20,270.20L364.00,283.00L365.07,284.66L366.13,289.10L367.20,286.70L368.00,276.76L368.80,262.60L369.70,255.58L370.60,250.59L371.50,255.10L372.20,262.52L372.90,279.79L373.60,276.50L374.50,272.66L375.40,252.71L376.30,256.10L377.10,278.84L377.90,286.20L378.70,276.32L379.50,255.60L380.25,272.58L381.00,270.00" clip-path="url(#c00)" stroke="#000" stroke-width="3" stroke-linejoin="round" fill="none"/>
<path d="M104.50,868.40L105.30,875.51L106.10,895.20L106.87,898.49L107.63,896.55L108.40,901.90L109.20,889.59L110.00,872.30L110.90,881.17L111.80,884.00L112.50,871.34L113.20,867.85L113.90,877.30L115.00,890.70L116.20,865.60L116.93,883.20L117.67,878.82L118.40,894.10L119.13,878.42L119.87,887.40L120.60,866.20L121.37,876.25L122.13,895.81L122.90,898.50L123.70,887.68L124.50,878.00L125.35,870.99L126.20,857.30L127.30,888.50L128.03,876.38L128.77,884.27L129.50,877.30L130.27,895.43L131.03,896.46L131.80,905.20L132.53,900.96L133.27,889.25L134.00,875.10L134.73,869.47L135.47,890.96L136.20,889.60L136.97,899.02L137.73,899.30L138.50,911.30L139.60,869.00L140.53,861.28L141.47,884.84L142.40,879.60L143.33,874.85L144.27,876.65L145.20,867.30L146.30,899.10L147.10,894.24L147.90,871.20L149.03,887.67L150.17,903.97L151.30,905.20L152.23,891.35L153.17,889.76L154.10,871.20L155.20,911.90L156.13,906.10L157.07,913.42L158.00,898.50L158.73,898.49L159.47,870.64L160.20,871.20L160.93,868.96L161.67,877.41L162.40,890.70L163.50,862.30L164.27,882.57L165.03,878.97L165.80,889.60L166.53,888.91L167.27,877.36L168.00,878.40L169.10,900.70L169.83,899.41L170.57,895.03L171.30,896.30L172.43,880.82L173.57,874.54L174.70,860.60L175.55,877.67L176.40,890.70L177.70,886.83L179.00,867.93L180.30,850.00L181.10,881.19L181.90,891.80L182.75,890.60L183.60,872.30L184.33,894.68L185.07,897.61L185.80,904.10L186.93,889.31L188.07,899.36L189.20,884.00L190.30,893.48L191.40,890.38L192.50,879.00L193.63,887.53L194.77,897.86L195.90,899.60L196.63,884.30L197.37,890.83L198.10,874.50L199.03,883.90L199.97,884.61L200.90,897.40L201.75,875.77L202.60,875.10L203.33,888.06L204.07,895.79L204.80,888.50L205.73,869.89L206.67,878.25L207.60,862.30L208.53,867.38L209.47,868.39L210.40,884.00L211.33,883.52L212.27,899.38L213.20,897.40L213.93,898.18L214.67,870.13L215.40,872.90L216.13,874.72L216.87,860.11L217.60,870.10L218.45,885.64L219.30,890.70L220.23,890.38L221.17,907.31L222.10,901.90L222.83,903.40L223.57,881.96L224.30,871.80L225.03,891.93L225.77,883.57L226.50,896.30L227.27,882.38L228.03,891.16L228.80,885.00L229.53,871.02L230.27,872.27L231.00,876.80L231.20,877.00L234.30,903.90L236.10,880.70L237.90,896.60L241.00,814.70L241.60,845.20L244.10,845.20L245.30,890.00L247.80,1011.00L250.50,935.00L253.20,800.00L255.50,729.20L257.50,800.00L258.70,944.30L260.30,950.40L262.10,1011.00L265.50,883.10L267.90,858.70L268.90,826.30L269.70,859.90L271.00,852.30L271.90,862.62L272.80,885.60L273.55,867.98L274.30,869.40L275.25,886.86L276.20,909.30L277.30,890.59L278.40,878.03L279.50,878.00L280.30,875.00L281.10,886.76L281.90,876.10L282.60,897.06L283.30,903.60L284.25,891.91L285.20,867.50L285.90,864.96L286.60,876.65L287.30,879.90L288.03,868.51L288.77,859.98L289.50,861.80L290.40,895.10L291.20,880.25L292.00,877.45L292.80,878.90L293.75,891.56L294.70,883.70L295.50,887.46L296.30,882.79L297.10,871.30L297.80,902.26L298.50,918.80L299.30,902.28L300.10,895.90L300.90,891.30L301.83,889.91L302.77,888.00L303.70,878.00L304.50,889.81L305.30,884.60L306.15,904.17L307.00,905.50L308.13,889.25L309.27,895.37L310.40,886.50L311.17,895.05L311.93,895.51L312.70,899.80L313.70,877.00L314.50,866.10L315.30,870.03L316.10,867.50L316.90,866.39L317.70,885.00L318.55,909.03L319.40,912.20L320.20,912.10L321.00,895.61L321.80,885.60L322.57,876.67L323.33,887.15L324.10,873.20L325.07,881.90L326.03,896.31L327.00,894.10L327.70,890.35L328.40,869.90L329.20,877.23L330.00,882.10L330.80,891.30L331.75,879.17L332.70,862.30L333.63,866.51L334.57,865.91L335.50,879.90L336.47,876.79L337.43,890.54L338.40,884.60L339.35,863.19L340.30,863.70L341.07,863.58L341.83,888.27L342.60,896.00L343.40,882.20L344.20,879.76L345.00,870.40L345.80,869.71L346.60,866.63L347.40,870.40L348.33,894.67L349.27,887.76L350.20,907.40L350.95,888.21L351.70,873.20L352.63,865.76L353.57,875.78L354.50,872.30L355.60,874.20L356.70,883.37L357.80,894.10L358.60,894.66L359.40,879.06L360.20,878.00L361.00,888.27L361.80,905.44L362.60,904.60L363.40,876.32L364.20,856.68L365.00,848.50L365.77,852.76L366.53,876.40L367.30,880.80L368.05,896.87L368.80,907.40L369.75,888.75L370.70,882.70L371.60,923.60L372.40,912.88L373.20,902.53L374.00,903.60L374.95,886.47L375.90,871.30L376.83,871.73L377.77,898.84L378.70,905.50L379.45,905.05L380.20,885.60L380.85,893.71L381.50,880.00" clip-path="url(#c10)" stroke="#000" stroke-width="3" stroke-linejoin="round" fill="none"/>
<path d="M104.50,1479.10L105.20,1479.10L106.20,1505.25L107.20,1525.50L108.07,1522.37L108.93,1514.72L109.80,1498.70L110.60,1515.52L111.40,1511.10L112.15,1503.41L112.90,1484.20L113.77,1492.80L114.63,1469.83L115.50,1479.60L116.25,1492.42L117.00,1506.90L118.00,1488.00L119.10,1520.40L119.85,1507.04L120.60,1472.40L121.30,1498.51L122.00,1527.09L122.70,1540.00L123.90,1507.65L125.10,1493.12L126.30,1470.80L127.40,1494.50L128.23,1486.02L129.07,1490.75L129.90,1487.30L131.00,1523.40L132.37,1514.01L133.73,1489.38L135.10,1489.90L135.85,1496.80L136.60,1517.30L137.40,1529.81L138.20,1552.90L138.90,1540.86L139.60,1515.21L140.30,1486.80L141.05,1494.38L141.80,1518.30L142.80,1477.50L143.67,1485.16L144.53,1469.90L145.40,1479.10L145.90,1532.20L147.10,1520.22L148.30,1493.64L149.50,1487.80L150.30,1498.29L151.10,1532.70L151.97,1519.08L152.83,1480.66L153.70,1465.10L154.45,1493.62L155.20,1535.80L156.40,1540.84L157.60,1531.67L158.80,1516.20L159.60,1494.64L160.40,1483.20L161.40,1511.33L162.40,1517.30L163.20,1499.14L164.00,1479.10L164.70,1493.33L165.40,1491.95L166.10,1509.00L167.10,1508.98L168.10,1487.80L169.20,1535.80L170.20,1516.93L171.20,1488.90L171.90,1508.86L172.60,1515.88L173.30,1515.20L174.05,1493.57L174.80,1481.60L175.83,1489.47L176.87,1495.98L177.90,1515.20L178.77,1484.66L179.63,1460.70L180.50,1449.10L181.20,1466.03L181.90,1494.97L182.60,1514.20L183.60,1488.33L184.60,1486.30L185.70,1529.60L187.07,1517.87L188.43,1493.71L189.80,1481.60L190.60,1492.79L191.40,1513.10L192.40,1504.49L193.40,1480.60L194.60,1495.44L195.80,1506.78L197.00,1526.50L198.10,1475.50L198.93,1487.25L199.77,1504.81L200.60,1512.10L201.83,1489.07L203.07,1498.70L204.30,1474.90L205.05,1494.70L205.80,1537.40L206.50,1520.50L207.20,1499.88L207.90,1468.70L208.93,1470.73L209.97,1502.81L211.00,1509.50L211.90,1504.04L212.80,1505.00L213.70,1500.38L214.60,1492.00L215.47,1485.88L216.33,1492.45L217.20,1509.00L218.40,1499.28L219.60,1515.79L220.80,1502.80L221.80,1488.32L222.80,1488.40L224.30,1451.70L225.50,1472.70L227.10,1471.50L227.80,1517.00L229.50,1524.00L230.20,1583.50L232.00,1624.30L233.70,1594.00L234.80,1591.70L237.20,1440.00L239.50,1346.70L241.10,1316.30L243.50,1416.70L244.90,1521.70L247.70,1704.80L250.00,1626.60L252.30,1463.30L254.20,1351.30L255.80,1331.50L257.00,1370.00L258.20,1463.30L259.30,1575.30L260.50,1568.30L262.40,1616.10L264.00,1533.30L265.20,1510.00L266.80,1503.00L268.70,1433.00L269.50,1484.60L270.47,1496.94L271.43,1502.93L272.40,1500.50L273.40,1492.19L274.40,1484.60L275.40,1499.23L276.40,1525.30L277.20,1509.16L278.00,1517.00L278.95,1512.16L279.90,1499.50L280.85,1487.89L281.80,1477.70L282.55,1513.68L283.30,1537.20L284.15,1515.56L285.00,1500.00L286.27,1498.05L287.53,1477.68L288.80,1474.70L289.80,1496.48L290.80,1509.28L291.80,1518.30L292.50,1497.44L293.20,1480.70L293.93,1484.05L294.67,1489.94L295.40,1488.00L296.17,1477.20L296.93,1482.42L297.70,1477.70L298.70,1541.60L299.45,1526.37L300.20,1496.50L301.20,1492.62L302.20,1500.00L303.15,1523.38L304.10,1532.20L304.85,1523.56L305.60,1506.00L306.60,1527.86L307.60,1533.20L308.60,1516.39L309.60,1497.70L310.60,1494.60L311.35,1513.66L312.10,1518.30L313.10,1507.81L314.10,1482.70L314.90,1481.82L315.70,1473.82L316.50,1484.00L317.50,1498.38L318.50,1527.30L319.83,1517.97L321.17,1497.16L322.50,1489.60L323.33,1512.67L324.17,1516.19L325.00,1526.30L326.13,1499.62L327.27,1491.03L328.40,1467.80L329.40,1482.95L330.40,1515.19L331.40,1523.30L332.15,1500.18L332.90,1457.40L334.07,1473.45L335.23,1492.27L336.40,1504.50L337.35,1512.70L338.30,1511.40L339.30,1504.88L340.30,1483.70L341.13,1513.30L341.97,1508.72L342.80,1538.20L343.80,1508.07L344.80,1484.60L345.63,1496.84L346.47,1499.50L347.30,1514.00L348.27,1521.21L349.23,1514.29L350.20,1529.20L351.20,1518.02L352.20,1488.60L353.03,1486.57L353.87,1474.14L354.70,1480.70L355.70,1514.40L356.70,1507.41L357.70,1492.60L358.50,1487.09L359.30,1483.31L360.10,1489.60L361.27,1501.44L362.43,1505.38L363.60,1526.30L364.35,1494.04L365.10,1475.70L366.10,1501.01L367.10,1513.52L368.10,1525.30L368.93,1504.00L369.77,1512.77L370.60,1496.50L371.30,1501.76L372.00,1530.20L373.00,1526.19L374.00,1530.20L375.00,1525.04L376.00,1503.35L377.00,1485.60L378.00,1501.80L379.00,1527.30L380.00,1503.50L380.75,1498.81L381.50,1500.00" clip-path="url(#c20)" stroke="#000" stroke-width="3" stroke-linejoin="round" fill="none"/>
<text x="118.8" y="453.7" class="L">v<tspan class="s" dy="14.4">fast</tspan><tspan dy="-14.4">(</tspan><tspan class="w" style="font-size:30px">ω</tspan><tspan class="s" dy="14.4">0</tspan><tspan dy="-14.4">) = 1800 m/s</tspan></text>
<text x="118.8" y="1072.2" class="L">v<tspan class="s" dy="14.4">slow</tspan><tspan dy="-14.4">(</tspan><tspan class="w" style="font-size:30px">ω</tspan><tspan class="s" dy="14.4">0</tspan><tspan dy="-14.4">) = 1500 m/s</tspan></text>
<text x="118" y="1695.8" class="L">SNR = 20 dB</text>

</svg>
</body></html>
